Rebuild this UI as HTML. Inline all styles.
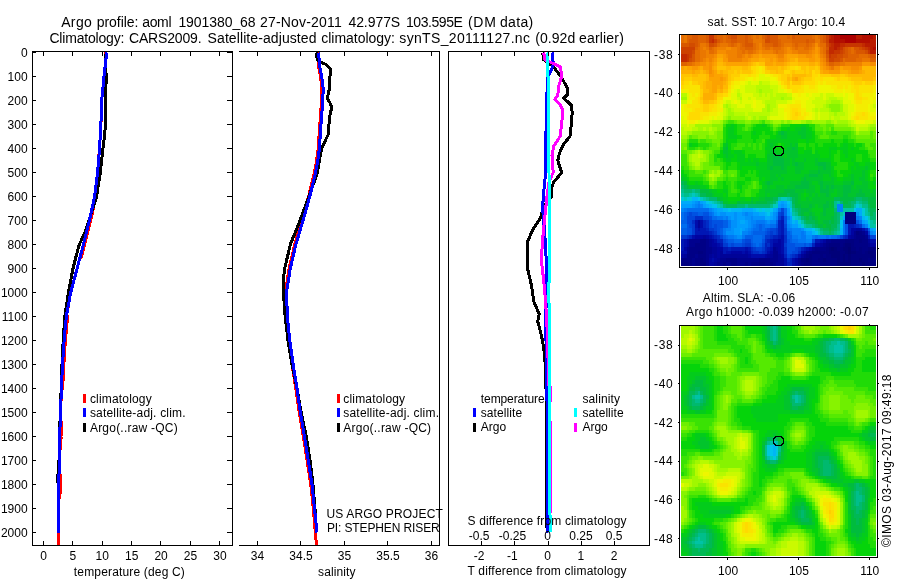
<!DOCTYPE html><html><head><meta charset="utf-8"><title>Argo profile</title>
<style>html,body{margin:0;padding:0;background:#fff}svg{display:block}text{font-family:"Liberation Sans", sans-serif;fill:#000}</style></head><body>
<svg width="900" height="580" viewBox="0 0 900 580">
<rect width="900" height="580" fill="#fff"/>
<g shape-rendering="crispEdges">
<path fill="rgb(0,0,115)" d="M831 247h3v4h-3zM848 247h3v4h-3zM848 251h3v3h-3z"/><path fill="rgb(0,0,121)" d="M845 243h6v4h-6zM829 247h2v4h-2zM834 247h3v4h-3zM843 247h5v4h-5zM829 251h11v3h-11zM845 251h3v3h-3zM851 251h5v3h-5zM868 251h5v3h-5zM831 254h9v4h-9zM843 254h2v4h-2zM848 254h3v4h-3zM870 254h3v4h-3zM806 258h3v4h-3zM823 258h3v4h-3zM837 258h3v4h-3zM843 258h2v4h-2zM848 258h3v4h-3zM859 258h3v4h-3zM837 262h14v4h-14zM862 262h3v4h-3z"/><path fill="rgb(0,0,128)" d="M845 212h11v4h-11zM845 216h11v4h-11zM845 220h11v4h-11zM856 231h3v4h-3zM845 239h9v4h-9zM859 239h3v4h-3zM829 243h11v4h-11zM843 243h2v4h-2zM851 243h3v4h-3zM826 247h3v4h-3zM837 247h6v4h-6zM851 247h5v4h-5zM859 247h3v4h-3zM868 247h8v4h-8zM698 251h5v3h-5zM812 251h17v3h-17zM840 251h5v3h-5zM856 251h6v3h-6zM865 251h3v3h-3zM873 251h3v3h-3zM809 254h3v4h-3zM820 254h3v4h-3zM826 254h5v4h-5zM840 254h3v4h-3zM845 254h3v4h-3zM851 254h19v4h-19zM873 254h3v4h-3zM700 258h3v4h-3zM801 258h5v4h-5zM809 258h3v4h-3zM818 258h5v4h-5zM826 258h11v4h-11zM840 258h3v4h-3zM845 258h3v4h-3zM851 258h8v4h-8zM862 258h6v4h-6zM870 258h3v4h-3zM684 262h5v4h-5zM700 262h6v4h-6zM759 262h6v4h-6zM804 262h8v4h-8zM820 262h17v4h-17zM851 262h11v4h-11zM865 262h11v4h-11z"/><path fill="rgb(0,0,134)" d="M859 231h3v4h-3zM856 235h9v4h-9zM700 239h6v4h-6zM831 239h14v4h-14zM854 239h5v4h-5zM862 239h6v4h-6zM695 243h11v4h-11zM826 243h3v4h-3zM840 243h3v4h-3zM854 243h14v4h-14zM689 247h17v4h-17zM815 247h11v4h-11zM856 247h3v4h-3zM862 247h6v4h-6zM689 251h9v3h-9zM703 251h3v3h-3zM809 251h3v3h-3zM862 251h3v3h-3zM687 254h8v4h-8zM698 254h8v4h-8zM806 254h3v4h-3zM812 254h8v4h-8zM823 254h3v4h-3zM681 258h11v4h-11zM695 258h5v4h-5zM703 258h3v4h-3zM726 258h11v4h-11zM759 258h11v4h-11zM812 258h6v4h-6zM868 258h2v4h-2zM873 258h3v4h-3zM681 262h3v4h-3zM689 262h3v4h-3zM695 262h5v4h-5zM723 262h3v4h-3zM731 262h6v4h-6zM745 262h3v4h-3zM751 262h8v4h-8zM765 262h8v4h-8zM801 262h3v4h-3zM812 262h8v4h-8z"/><path fill="rgb(0,1,142)" d="M854 231h2v4h-2zM862 231h3v4h-3zM854 235h2v4h-2zM865 235h3v4h-3zM689 239h11v4h-11zM706 239h3v4h-3zM826 239h5v4h-5zM689 243h6v4h-6zM706 243h3v4h-3zM823 243h3v4h-3zM868 243h2v4h-2zM687 247h2v4h-2zM706 247h6v4h-6zM773 247h3v4h-3zM812 247h3v4h-3zM687 251h2v3h-2zM706 251h6v3h-6zM773 251h5v3h-5zM806 251h3v3h-3zM695 254h3v4h-3zM706 254h3v4h-3zM773 254h5v4h-5zM804 254h2v4h-2zM692 258h3v4h-3zM706 258h3v4h-3zM720 258h6v4h-6zM737 258h22v4h-22zM770 258h8v4h-8zM798 258h3v4h-3zM692 262h3v4h-3zM706 262h3v4h-3zM717 262h6v4h-6zM726 262h5v4h-5zM737 262h8v4h-8zM748 262h3v4h-3zM773 262h3v4h-3zM798 262h3v4h-3z"/><path fill="rgb(0,3,152)" d="M698 220h2v4h-2zM698 224h2v4h-2zM856 228h6v3h-6zM703 235h3v4h-3zM851 235h3v4h-3zM709 239h3v4h-3zM868 239h2v4h-2zM709 243h3v4h-3zM820 243h3v4h-3zM712 247h5v4h-5zM776 247h2v4h-2zM712 251h5v3h-5zM720 251h3v3h-3zM684 254h3v4h-3zM709 254h3v4h-3zM714 254h3v4h-3zM720 254h28v4h-28zM767 254h6v4h-6zM778 254h3v4h-3zM801 254h3v4h-3zM717 258h3v4h-3zM778 258h6v4h-6zM714 262h3v4h-3zM776 262h8v4h-8z"/><path fill="rgb(0,4,161)" d="M851 228h5v3h-5zM851 231h3v4h-3zM865 231h3v4h-3zM695 235h8v4h-8zM706 235h3v4h-3zM848 235h3v4h-3zM687 239h2v4h-2zM712 239h2v4h-2zM778 239h3v4h-3zM823 239h3v4h-3zM687 243h2v4h-2zM712 243h5v4h-5zM773 243h8v4h-8zM815 243h5v4h-5zM870 243h6v4h-6zM684 247h3v4h-3zM717 247h6v4h-6zM778 247h3v4h-3zM809 247h3v4h-3zM717 251h3v3h-3zM731 251h11v3h-11zM745 251h3v3h-3zM770 251h3v3h-3zM778 251h3v3h-3zM804 251h2v3h-2zM681 254h3v4h-3zM712 254h2v4h-2zM717 254h3v4h-3zM748 254h3v4h-3zM765 254h2v4h-2zM781 254h3v4h-3zM709 258h3v4h-3zM714 258h3v4h-3zM795 258h3v4h-3zM709 262h5v4h-5zM795 262h3v4h-3z"/><path fill="rgb(0,12,171)" d="M695 220h3v4h-3zM700 220h3v4h-3zM695 224h3v4h-3zM700 224h3v4h-3zM698 228h2v3h-2zM862 228h3v3h-3zM692 235h3v4h-3zM709 235h3v4h-3zM781 235h3v4h-3zM684 239h3v4h-3zM714 239h3v4h-3zM773 239h5v4h-5zM781 239h3v4h-3zM820 239h3v4h-3zM870 239h6v4h-6zM684 243h3v4h-3zM717 243h3v4h-3zM781 243h3v4h-3zM745 247h3v4h-3zM770 247h3v4h-3zM781 247h3v4h-3zM806 247h3v4h-3zM681 251h6v3h-6zM726 251h5v3h-5zM742 251h3v3h-3zM748 251h3v3h-3zM767 251h3v3h-3zM781 251h3v3h-3zM801 251h3v3h-3zM751 254h14v4h-14zM798 254h3v4h-3zM712 258h2v4h-2zM784 258h3v4h-3zM792 258h3v4h-3zM784 262h3v4h-3zM792 262h3v4h-3z"/><path fill="rgb(0,22,180)" d="M781 220h3v4h-3zM781 224h3v4h-3zM848 224h6v4h-6zM695 228h3v3h-3zM700 228h6v3h-6zM781 228h3v3h-3zM848 228h3v3h-3zM695 231h14v4h-14zM781 231h3v4h-3zM848 231h3v4h-3zM712 235h2v4h-2zM778 235h3v4h-3zM868 235h2v4h-2zM681 239h3v4h-3zM770 239h3v4h-3zM815 239h5v4h-5zM681 243h3v4h-3zM720 243h3v4h-3zM770 243h3v4h-3zM681 247h3v4h-3zM723 247h5v4h-5zM731 247h14v4h-14zM748 247h3v4h-3zM767 247h3v4h-3zM804 247h2v4h-2zM723 251h3v3h-3z"/><path fill="rgb(0,33,189)" d="M781 216h3v4h-3zM703 220h3v4h-3zM778 220h3v4h-3zM703 224h3v4h-3zM778 224h3v4h-3zM854 224h2v4h-2zM706 228h3v3h-3zM778 228h3v3h-3zM865 228h3v3h-3zM709 231h3v4h-3zM778 231h3v4h-3zM689 235h3v4h-3zM714 235h3v4h-3zM773 235h5v4h-5zM845 235h3v4h-3zM717 239h6v4h-6zM767 239h3v4h-3zM765 243h2v4h-2zM812 243h3v4h-3zM728 247h3v4h-3zM765 247h2v4h-2zM801 247h3v4h-3zM751 251h2v3h-2zM765 251h2v3h-2zM784 254h3v4h-3zM795 254h3v4h-3zM790 258h2v4h-2zM787 262h5v4h-5z"/><path fill="rgb(0,45,199)" d="M695 216h8v4h-8zM692 220h3v4h-3zM706 220h3v4h-3zM706 224h3v4h-3zM856 224h3v4h-3zM712 231h2v4h-2zM687 235h2v4h-2zM717 235h3v4h-3zM770 235h3v4h-3zM784 235h3v4h-3zM843 235h2v4h-2zM765 239h2v4h-2zM784 239h3v4h-3zM767 243h3v4h-3zM751 247h2v4h-2zM784 247h3v4h-3zM753 251h6v3h-6zM762 251h3v3h-3zM784 251h3v3h-3zM798 251h3v3h-3zM792 254h3v4h-3zM787 258h3v4h-3z"/><path fill="rgb(0,58,208)" d="M781 212h3v4h-3zM778 216h3v4h-3zM692 224h3v4h-3zM859 224h3v4h-3zM692 228h3v3h-3zM709 228h5v3h-5zM776 228h2v3h-2zM784 228h3v3h-3zM692 231h3v4h-3zM714 231h3v4h-3zM770 231h3v4h-3zM776 231h2v4h-2zM784 231h3v4h-3zM868 231h2v4h-2zM681 235h6v4h-6zM765 235h5v4h-5zM723 243h5v4h-5zM745 243h6v4h-6zM784 243h3v4h-3zM753 247h3v4h-3zM762 247h3v4h-3zM798 247h3v4h-3zM759 251h3v3h-3zM790 254h2v4h-2z"/><path fill="rgb(0,70,218)" d="M781 208h3v4h-3zM689 212h3v4h-3zM778 212h3v4h-3zM687 216h8v4h-8zM703 216h6v4h-6zM687 220h5v4h-5zM709 220h3v4h-3zM689 224h3v4h-3zM709 224h3v4h-3zM714 224h3v4h-3zM784 224h3v4h-3zM714 228h3v3h-3zM770 228h6v3h-6zM767 231h3v4h-3zM773 231h3v4h-3zM720 235h3v4h-3zM840 235h3v4h-3zM870 235h6v4h-6zM723 239h3v4h-3zM745 239h6v4h-6zM812 239h3v4h-3zM731 243h3v4h-3zM742 243h3v4h-3zM762 243h3v4h-3zM756 247h6v4h-6zM795 247h3v4h-3zM792 251h6v3h-6zM787 254h3v4h-3z"/><path fill="rgb(0,82,226)" d="M687 212h2v4h-2zM692 212h6v4h-6zM703 212h6v4h-6zM709 216h3v4h-3zM784 216h3v4h-3zM712 220h11v4h-11zM784 220h3v4h-3zM856 220h3v4h-3zM687 224h2v4h-2zM712 224h2v4h-2zM717 224h6v4h-6zM776 224h2v4h-2zM845 224h3v4h-3zM687 228h5v3h-5zM717 228h3v3h-3zM767 228h3v3h-3zM845 228h3v3h-3zM687 231h5v4h-5zM717 231h3v4h-3zM765 231h2v4h-2zM845 231h3v4h-3zM726 239h2v4h-2zM742 239h3v4h-3zM762 239h3v4h-3zM787 239h3v4h-3zM728 243h3v4h-3zM734 243h8v4h-8zM751 243h2v4h-2zM787 243h8v4h-8zM804 243h2v4h-2zM809 243h3v4h-3zM787 247h8v4h-8zM787 251h5v3h-5z"/><path fill="rgb(0,95,232)" d="M684 212h3v4h-3zM698 212h5v4h-5zM684 216h3v4h-3zM681 220h6v4h-6zM723 220h5v4h-5zM776 220h2v4h-2zM723 224h5v4h-5zM759 224h3v4h-3zM681 228h6v3h-6zM720 228h3v3h-3zM759 228h3v3h-3zM765 228h2v3h-2zM868 228h2v3h-2zM681 231h6v4h-6zM720 231h3v4h-3zM753 231h12v4h-12zM787 231h3v4h-3zM723 235h3v4h-3zM745 235h8v4h-8zM762 235h3v4h-3zM787 235h5v4h-5zM837 235h3v4h-3zM728 239h6v4h-6zM751 239h2v4h-2zM790 239h2v4h-2zM753 243h3v4h-3zM759 243h3v4h-3zM795 243h9v4h-9zM806 243h3v4h-3z"/><path fill="rgb(0,108,239)" d="M687 208h22v4h-22zM778 208h3v4h-3zM784 208h3v4h-3zM681 212h3v4h-3zM709 212h3v4h-3zM784 212h3v4h-3zM681 216h3v4h-3zM712 216h5v4h-5zM859 220h3v4h-3zM681 224h6v4h-6zM756 224h3v4h-3zM762 224h3v4h-3zM770 224h6v4h-6zM862 224h3v4h-3zM753 228h6v3h-6zM762 228h3v3h-3zM751 231h2v4h-2zM790 231h2v4h-2zM726 235h2v4h-2zM753 235h9v4h-9zM815 235h3v4h-3zM826 235h3v4h-3zM831 235h6v4h-6zM734 239h8v4h-8zM753 239h9v4h-9zM792 239h6v4h-6zM756 243h3v4h-3z"/><path fill="rgb(0,120,245)" d="M698 204h2v4h-2zM684 208h3v4h-3zM712 212h2v4h-2zM717 216h6v4h-6zM726 216h2v4h-2zM776 216h2v4h-2zM856 216h3v4h-3zM728 220h3v4h-3zM756 220h9v4h-9zM843 220h2v4h-2zM728 224h3v4h-3zM753 224h3v4h-3zM765 224h5v4h-5zM843 224h2v4h-2zM723 228h3v3h-3zM751 228h2v3h-2zM787 228h5v3h-5zM843 228h2v3h-2zM723 231h3v4h-3zM748 231h3v4h-3zM801 231h3v4h-3zM843 231h2v4h-2zM728 235h6v4h-6zM742 235h3v4h-3zM792 235h6v4h-6zM801 235h5v4h-5zM812 235h3v4h-3zM818 235h8v4h-8zM829 235h2v4h-2zM798 239h8v4h-8z"/><path fill="rgb(0,132,248)" d="M698 201h2v3h-2zM695 204h3v4h-3zM700 204h3v4h-3zM837 204h6v4h-6zM681 208h3v4h-3zM709 208h3v4h-3zM837 208h6v4h-6zM745 212h3v4h-3zM776 212h2v4h-2zM723 216h3v4h-3zM751 216h2v4h-2zM787 216h3v4h-3zM859 216h3v4h-3zM751 220h5v4h-5zM765 220h2v4h-2zM770 220h6v4h-6zM751 224h2v4h-2zM787 224h3v4h-3zM865 224h3v4h-3zM726 228h5v3h-5zM748 228h3v3h-3zM792 228h9v3h-9zM742 231h6v4h-6zM792 231h9v4h-9zM804 231h2v4h-2zM870 231h3v4h-3zM734 235h3v4h-3zM798 235h3v4h-3zM806 239h6v4h-6z"/><path fill="rgb(0,145,251)" d="M695 201h3v3h-3zM692 204h3v4h-3zM781 204h3v4h-3zM712 208h2v4h-2zM714 212h3v4h-3zM720 212h6v4h-6zM734 212h3v4h-3zM742 212h3v4h-3zM748 212h5v4h-5zM773 212h3v4h-3zM856 212h3v4h-3zM728 216h3v4h-3zM734 216h3v4h-3zM745 216h6v4h-6zM753 216h12v4h-12zM773 216h3v4h-3zM731 220h6v4h-6zM748 220h3v4h-3zM767 220h3v4h-3zM787 220h3v4h-3zM731 224h6v4h-6zM748 224h3v4h-3zM790 224h2v4h-2zM731 228h3v3h-3zM745 228h3v3h-3zM801 228h3v3h-3zM726 231h8v4h-8zM873 231h3v4h-3zM737 235h5v4h-5zM806 235h6v4h-6z"/><path fill="rgb(0,158,254)" d="M692 201h3v3h-3zM700 201h3v3h-3zM781 201h3v3h-3zM681 204h11v4h-11zM703 204h3v4h-3zM778 204h3v4h-3zM784 204h3v4h-3zM714 208h3v4h-3zM776 208h2v4h-2zM787 208h3v4h-3zM717 212h3v4h-3zM726 212h8v4h-8zM737 212h5v4h-5zM753 212h6v4h-6zM787 212h3v4h-3zM731 216h3v4h-3zM737 216h8v4h-8zM770 216h3v4h-3zM790 216h2v4h-2zM737 220h3v4h-3zM745 220h3v4h-3zM790 220h2v4h-2zM862 220h3v4h-3zM737 224h11v4h-11zM792 224h6v4h-6zM734 228h6v3h-6zM742 228h3v3h-3zM870 228h3v3h-3zM734 231h6v4h-6zM806 231h6v4h-6z"/><path fill="rgb(0,170,250)" d="M681 201h11v3h-11zM703 201h3v3h-3zM778 201h3v3h-3zM784 201h3v3h-3zM706 204h3v4h-3zM717 208h6v4h-6zM742 208h11v4h-11zM773 208h3v4h-3zM856 208h6v4h-6zM759 212h6v4h-6zM770 212h3v4h-3zM859 212h3v4h-3zM765 216h5v4h-5zM843 216h2v4h-2zM740 220h5v4h-5zM795 220h3v4h-3zM865 220h3v4h-3zM740 228h2v3h-2zM804 228h2v3h-2zM873 228h3v3h-3zM740 231h2v4h-2z"/><path fill="rgb(0,182,244)" d="M692 197h6v4h-6zM709 204h3v4h-3zM787 204h3v4h-3zM723 208h5v4h-5zM731 208h11v4h-11zM753 208h3v4h-3zM765 212h2v4h-2zM790 212h2v4h-2zM862 216h3v4h-3zM792 220h3v4h-3zM798 224h3v4h-3zM868 224h2v4h-2zM806 228h6v3h-6zM840 228h3v3h-3zM812 231h3v4h-3zM840 231h3v4h-3z"/><path fill="rgb(0,195,238)" d="M698 197h2v4h-2zM706 201h3v3h-3zM787 201h3v3h-3zM712 204h5v4h-5zM728 208h3v4h-3zM756 208h3v4h-3zM762 208h3v4h-3zM770 208h3v4h-3zM790 208h2v4h-2zM854 208h2v4h-2zM767 212h3v4h-3zM865 216h3v4h-3zM840 220h3v4h-3zM840 224h3v4h-3zM812 228h3v3h-3zM815 231h3v4h-3z"/><path fill="rgb(0,200,218)" d="M681 197h3v4h-3zM687 197h5v4h-5zM709 201h3v3h-3zM856 204h3v4h-3zM759 208h3v4h-3zM765 208h5v4h-5zM862 208h3v4h-3zM862 212h3v4h-3zM792 216h3v4h-3zM798 220h3v4h-3zM868 220h2v4h-2zM801 224h3v4h-3z"/><path fill="rgb(0,200,190)" d="M692 193h3v4h-3zM684 197h3v4h-3zM700 197h3v4h-3zM781 197h6v4h-6zM712 201h2v3h-2zM790 201h2v3h-2zM717 204h3v4h-3zM773 204h5v4h-5zM790 204h2v4h-2zM859 204h3v4h-3zM843 212h2v4h-2zM795 216h3v4h-3zM840 216h3v4h-3zM868 216h2v4h-2zM815 228h3v3h-3zM818 231h2v4h-2z"/><path fill="rgb(0,195,165)" d="M681 193h3v4h-3zM689 193h3v4h-3zM695 193h3v4h-3zM703 197h3v4h-3zM778 197h3v4h-3zM787 197h3v4h-3zM714 201h3v3h-3zM776 201h2v3h-2zM837 201h3v3h-3zM856 201h3v3h-3zM720 204h3v4h-3zM854 204h2v4h-2zM843 208h11v4h-11zM865 208h3v4h-3zM792 212h3v4h-3zM840 212h3v4h-3zM865 212h3v4h-3zM798 216h3v4h-3zM801 220h3v4h-3zM870 220h3v4h-3zM804 224h2v4h-2zM870 224h6v4h-6zM818 228h2v3h-2zM837 231h3v4h-3z"/><path fill="rgb(0,190,139)" d="M681 189h3v4h-3zM692 189h3v4h-3zM684 193h5v4h-5zM698 193h2v4h-2zM706 197h3v4h-3zM790 197h2v4h-2zM717 201h3v3h-3zM834 201h3v3h-3zM859 201h3v3h-3zM745 204h3v4h-3zM770 204h3v4h-3zM834 204h3v4h-3zM862 204h6v4h-6zM792 208h3v4h-3zM795 212h3v4h-3zM868 212h2v4h-2zM873 220h3v4h-3zM806 224h6v4h-6zM837 224h3v4h-3zM837 228h3v3h-3zM820 231h3v4h-3zM834 231h3v4h-3z"/><path fill="rgb(0,185,110)" d="M681 185h3v4h-3zM684 189h8v4h-8zM695 189h5v4h-5zM709 197h8v4h-8zM856 197h6v4h-6zM720 201h3v3h-3zM773 201h3v3h-3zM840 201h3v3h-3zM851 201h5v3h-5zM862 201h6v3h-6zM723 204h3v4h-3zM737 204h8v4h-8zM748 204h22v4h-22zM792 204h3v4h-3zM851 204h3v4h-3zM795 208h3v4h-3zM834 208h3v4h-3zM868 208h2v4h-2zM837 212h3v4h-3zM873 212h3v4h-3zM801 216h3v4h-3zM837 216h3v4h-3zM870 216h6v4h-6zM804 220h2v4h-2zM837 220h3v4h-3zM812 224h3v4h-3zM820 228h3v3h-3zM834 228h3v3h-3zM823 231h6v4h-6zM831 231h3v4h-3z"/><path fill="rgb(0,185,84)" d="M681 181h3v4h-3zM684 185h3v4h-3zM700 193h6v4h-6zM787 193h3v4h-3zM773 197h5v4h-5zM792 197h3v4h-3zM834 197h6v4h-6zM854 197h2v4h-2zM862 197h6v4h-6zM767 201h6v3h-6zM792 201h3v3h-3zM848 201h3v3h-3zM726 204h11v4h-11zM843 204h8v4h-8zM868 204h2v4h-2zM798 208h3v4h-3zM870 208h6v4h-6zM798 212h3v4h-3zM834 212h3v4h-3zM870 212h3v4h-3zM804 216h2v4h-2zM809 216h3v4h-3zM834 216h3v4h-3zM806 220h9v4h-9zM829 220h2v4h-2zM834 220h3v4h-3zM815 224h3v4h-3zM831 224h6v4h-6zM823 228h6v3h-6zM831 228h3v3h-3zM829 231h2v4h-2z"/><path fill="rgb(0,188,61)" d="M781 131h3v4h-3zM726 147h2v3h-2zM792 147h3v3h-3zM773 154h3v4h-3zM778 154h3v4h-3zM773 158h11v4h-11zM773 162h11v4h-11zM795 162h3v4h-3zM818 162h8v4h-8zM770 166h3v4h-3zM781 166h3v4h-3zM823 166h3v4h-3zM818 170h2v4h-2zM809 174h9v3h-9zM804 177h2v4h-2zM684 181h3v4h-3zM767 181h3v4h-3zM801 181h8v4h-8zM820 181h3v4h-3zM851 181h3v4h-3zM687 185h2v4h-2zM795 185h14v4h-14zM820 185h3v4h-3zM826 185h3v4h-3zM831 185h3v4h-3zM843 185h8v4h-8zM700 189h9v4h-9zM784 189h11v4h-11zM820 189h9v4h-9zM843 189h8v4h-8zM859 189h3v4h-3zM706 193h6v4h-6zM778 193h9v4h-9zM790 193h8v4h-8zM826 193h3v4h-3zM843 193h5v4h-5zM856 193h9v4h-9zM717 197h3v4h-3zM765 197h8v4h-8zM795 197h3v4h-3zM840 197h14v4h-14zM868 197h8v4h-8zM737 201h3v3h-3zM751 201h2v3h-2zM756 201h11v3h-11zM795 201h3v3h-3zM826 201h3v3h-3zM831 201h3v3h-3zM843 201h5v3h-5zM868 201h8v3h-8zM795 204h6v4h-6zM809 204h3v4h-3zM823 204h6v4h-6zM831 204h3v4h-3zM870 204h6v4h-6zM801 208h8v4h-8zM823 208h3v4h-3zM801 212h3v4h-3zM809 212h3v4h-3zM823 212h3v4h-3zM806 216h3v4h-3zM812 216h3v4h-3zM831 216h3v4h-3zM815 220h3v4h-3zM823 220h6v4h-6zM831 220h3v4h-3zM818 224h5v4h-5zM826 224h5v4h-5zM829 228h2v3h-2z"/><path fill="rgb(2,196,44)" d="M801 127h5v4h-5zM778 131h3v4h-3zM784 131h3v4h-3zM798 131h8v4h-8zM781 135h6v4h-6zM801 135h5v4h-5zM726 143h2v4h-2zM770 143h3v4h-3zM790 143h2v4h-2zM795 143h3v4h-3zM723 147h3v3h-3zM787 147h5v3h-5zM795 147h3v3h-3zM723 150h5v4h-5zM770 150h6v4h-6zM784 150h14v4h-14zM726 154h2v4h-2zM767 154h6v4h-6zM776 154h2v4h-2zM781 154h3v4h-3zM787 154h11v4h-11zM767 158h6v4h-6zM784 158h6v4h-6zM792 158h3v4h-3zM804 158h2v4h-2zM815 158h3v4h-3zM756 162h3v4h-3zM767 162h6v4h-6zM784 162h6v4h-6zM792 162h3v4h-3zM798 162h6v4h-6zM815 162h3v4h-3zM826 162h5v4h-5zM767 166h3v4h-3zM773 166h8v4h-8zM784 166h3v4h-3zM795 166h9v4h-9zM818 166h5v4h-5zM826 166h5v4h-5zM865 166h3v4h-3zM770 170h17v4h-17zM795 170h6v4h-6zM809 170h9v4h-9zM820 170h11v4h-11zM862 170h3v4h-3zM770 174h6v3h-6zM778 174h3v3h-3zM804 174h5v3h-5zM818 174h5v3h-5zM829 174h2v3h-2zM851 174h3v3h-3zM862 174h3v3h-3zM681 177h3v4h-3zM770 177h8v4h-8zM781 177h3v4h-3zM801 177h3v4h-3zM806 177h17v4h-17zM831 177h3v4h-3zM851 177h3v4h-3zM859 177h6v4h-6zM765 181h2v4h-2zM770 181h3v4h-3zM790 181h11v4h-11zM809 181h3v4h-3zM818 181h2v4h-2zM823 181h11v4h-11zM843 181h8v4h-8zM862 181h6v4h-6zM689 185h11v4h-11zM767 185h3v4h-3zM776 185h8v4h-8zM787 185h8v4h-8zM809 185h6v4h-6zM823 185h3v4h-3zM829 185h2v4h-2zM834 185h9v4h-9zM851 185h3v4h-3zM856 185h12v4h-12zM709 189h3v4h-3zM765 189h19v4h-19zM795 189h9v4h-9zM806 189h9v4h-9zM829 189h5v4h-5zM837 189h6v4h-6zM851 189h8v4h-8zM862 189h8v4h-8zM873 189h3v4h-3zM712 193h2v4h-2zM765 193h2v4h-2zM770 193h8v4h-8zM798 193h3v4h-3zM809 193h3v4h-3zM815 193h3v4h-3zM820 193h6v4h-6zM829 193h2v4h-2zM837 193h6v4h-6zM848 193h8v4h-8zM865 193h11v4h-11zM720 197h3v4h-3zM751 197h2v4h-2zM759 197h6v4h-6zM798 197h3v4h-3zM806 197h3v4h-3zM812 197h22v4h-22zM723 201h5v3h-5zM740 201h11v3h-11zM753 201h3v3h-3zM798 201h28v3h-28zM829 201h2v3h-2zM801 204h8v4h-8zM812 204h3v4h-3zM818 204h5v4h-5zM829 204h2v4h-2zM809 208h3v4h-3zM826 208h8v4h-8zM804 212h5v4h-5zM812 212h3v4h-3zM820 212h3v4h-3zM826 212h8v4h-8zM815 216h3v4h-3zM820 216h11v4h-11zM818 220h5v4h-5zM823 224h3v4h-3z"/><path fill="rgb(3,204,27)" d="M731 124h3v3h-3zM762 124h3v3h-3zM801 124h5v3h-5zM728 127h6v4h-6zM787 127h3v4h-3zM795 127h6v4h-6zM806 127h3v4h-3zM728 131h6v4h-6zM753 131h3v4h-3zM787 131h11v4h-11zM806 131h6v4h-6zM728 135h9v4h-9zM776 135h5v4h-5zM787 135h14v4h-14zM806 135h6v4h-6zM726 139h2v4h-2zM767 139h31v4h-31zM806 139h3v4h-3zM689 143h3v4h-3zM723 143h3v4h-3zM767 143h3v4h-3zM773 143h3v4h-3zM784 143h6v4h-6zM792 143h3v4h-3zM843 143h5v4h-5zM765 147h11v3h-11zM784 147h3v3h-3zM829 147h8v3h-8zM840 147h8v3h-8zM851 147h3v3h-3zM728 150h3v4h-3zM734 150h8v4h-8zM767 150h3v4h-3zM776 150h8v4h-8zM804 150h8v4h-8zM815 150h3v4h-3zM829 150h2v4h-2zM843 150h5v4h-5zM723 154h3v4h-3zM728 154h6v4h-6zM737 154h8v4h-8zM784 154h3v4h-3zM798 154h22v4h-22zM829 154h2v4h-2zM845 154h3v4h-3zM726 158h5v4h-5zM737 158h8v4h-8zM748 158h3v4h-3zM753 158h6v4h-6zM790 158h2v4h-2zM795 158h9v4h-9zM806 158h9v4h-9zM818 158h13v4h-13zM851 158h3v4h-3zM740 162h16v4h-16zM759 162h8v4h-8zM790 162h2v4h-2zM804 162h11v4h-11zM854 162h5v4h-5zM865 162h5v4h-5zM740 166h2v4h-2zM756 166h11v4h-11zM787 166h8v4h-8zM804 166h14v4h-14zM831 166h3v4h-3zM851 166h3v4h-3zM856 166h9v4h-9zM868 166h2v4h-2zM759 170h11v4h-11zM787 170h8v4h-8zM801 170h8v4h-8zM831 170h3v4h-3zM851 170h11v4h-11zM865 170h3v4h-3zM681 174h3v3h-3zM759 174h11v3h-11zM776 174h2v3h-2zM781 174h23v3h-23zM823 174h6v3h-6zM831 174h3v3h-3zM848 174h3v3h-3zM854 174h8v3h-8zM865 174h3v3h-3zM684 177h3v4h-3zM759 177h3v4h-3zM765 177h5v4h-5zM778 177h3v4h-3zM784 177h17v4h-17zM823 177h8v4h-8zM834 177h3v4h-3zM843 177h8v4h-8zM854 177h5v4h-5zM865 177h3v4h-3zM687 181h2v4h-2zM695 181h3v4h-3zM762 181h3v4h-3zM773 181h17v4h-17zM812 181h6v4h-6zM834 181h9v4h-9zM854 181h8v4h-8zM868 181h2v4h-2zM873 181h3v4h-3zM700 185h6v4h-6zM740 185h2v4h-2zM762 185h5v4h-5zM770 185h6v4h-6zM784 185h3v4h-3zM815 185h5v4h-5zM854 185h2v4h-2zM868 185h2v4h-2zM712 189h5v4h-5zM723 189h5v4h-5zM759 189h6v4h-6zM804 189h2v4h-2zM815 189h5v4h-5zM834 189h3v4h-3zM870 189h3v4h-3zM714 193h9v4h-9zM726 193h2v4h-2zM759 193h6v4h-6zM767 193h3v4h-3zM801 193h3v4h-3zM806 193h3v4h-3zM812 193h3v4h-3zM818 193h2v4h-2zM831 193h6v4h-6zM723 197h5v4h-5zM740 197h5v4h-5zM753 197h6v4h-6zM801 197h5v4h-5zM809 197h3v4h-3zM728 201h9v3h-9zM815 204h3v4h-3zM812 208h11v4h-11zM815 212h5v4h-5zM818 216h2v4h-2z"/><path fill="rgb(5,212,10)" d="M726 124h5v3h-5zM734 124h3v3h-3zM756 124h6v3h-6zM765 124h2v3h-2zM790 124h11v3h-11zM806 124h3v3h-3zM726 127h2v4h-2zM734 127h3v4h-3zM753 127h17v4h-17zM781 127h6v4h-6zM790 127h5v4h-5zM809 127h3v4h-3zM726 131h2v4h-2zM734 131h3v4h-3zM751 131h2v4h-2zM756 131h6v4h-6zM765 131h8v4h-8zM776 131h2v4h-2zM812 131h3v4h-3zM726 135h2v4h-2zM737 135h5v4h-5zM751 135h8v4h-8zM770 135h6v4h-6zM812 135h3v4h-3zM728 139h9v4h-9zM753 139h3v4h-3zM765 139h2v4h-2zM798 139h8v4h-8zM809 139h6v4h-6zM831 139h3v4h-3zM843 139h5v4h-5zM692 143h6v4h-6zM728 143h3v4h-3zM765 143h2v4h-2zM776 143h2v4h-2zM781 143h3v4h-3zM806 143h3v4h-3zM815 143h3v4h-3zM823 143h14v4h-14zM840 143h3v4h-3zM848 143h6v4h-6zM856 143h6v4h-6zM728 147h3v3h-3zM776 147h8v3h-8zM798 147h6v3h-6zM806 147h6v3h-6zM815 147h14v3h-14zM837 147h3v3h-3zM848 147h3v3h-3zM854 147h5v3h-5zM720 150h3v4h-3zM731 150h3v4h-3zM742 150h3v4h-3zM765 150h2v4h-2zM798 150h6v4h-6zM818 150h11v4h-11zM831 150h6v4h-6zM840 150h3v4h-3zM848 150h20v4h-20zM717 154h6v4h-6zM734 154h3v4h-3zM748 154h8v4h-8zM765 154h2v4h-2zM820 154h9v4h-9zM831 154h3v4h-3zM840 154h5v4h-5zM848 154h8v4h-8zM862 154h6v4h-6zM723 158h3v4h-3zM731 158h6v4h-6zM745 158h3v4h-3zM751 158h2v4h-2zM759 158h8v4h-8zM831 158h3v4h-3zM840 158h11v4h-11zM854 158h2v4h-2zM862 158h8v4h-8zM726 162h5v4h-5zM737 162h3v4h-3zM831 162h6v4h-6zM848 162h6v4h-6zM859 162h6v4h-6zM870 162h6v4h-6zM726 166h2v4h-2zM737 166h3v4h-3zM742 166h14v4h-14zM848 166h3v4h-3zM854 166h2v4h-2zM870 166h6v4h-6zM681 170h3v4h-3zM740 170h8v4h-8zM751 170h2v4h-2zM756 170h3v4h-3zM834 170h3v4h-3zM840 170h11v4h-11zM868 170h2v4h-2zM684 174h3v3h-3zM740 174h5v3h-5zM756 174h3v3h-3zM834 174h3v3h-3zM843 174h5v3h-5zM868 174h2v3h-2zM687 177h2v4h-2zM745 177h6v4h-6zM762 177h3v4h-3zM837 177h6v4h-6zM868 177h2v4h-2zM873 177h3v4h-3zM689 181h6v4h-6zM698 181h5v4h-5zM723 181h3v4h-3zM737 181h8v4h-8zM759 181h3v4h-3zM870 181h3v4h-3zM706 185h3v4h-3zM723 185h5v4h-5zM737 185h3v4h-3zM870 185h6v4h-6zM717 189h6v4h-6zM740 189h2v4h-2zM723 193h3v4h-3zM737 193h3v4h-3zM756 193h3v4h-3zM804 193h2v4h-2zM728 197h12v4h-12zM745 197h6v4h-6z"/><path fill="rgb(32,219,7)" d="M737 124h8v3h-8zM753 124h3v3h-3zM767 124h3v3h-3zM781 124h9v3h-9zM809 124h6v3h-6zM723 127h3v4h-3zM737 127h5v4h-5zM751 127h2v4h-2zM770 127h3v4h-3zM778 127h3v4h-3zM812 127h3v4h-3zM723 131h3v4h-3zM737 131h14v4h-14zM762 131h3v4h-3zM773 131h3v4h-3zM831 131h6v4h-6zM723 135h3v4h-3zM742 135h9v4h-9zM759 135h11v4h-11zM815 135h3v4h-3zM843 135h5v4h-5zM689 139h9v4h-9zM723 139h3v4h-3zM737 139h16v4h-16zM756 139h6v4h-6zM815 139h16v4h-16zM834 139h9v4h-9zM848 139h6v4h-6zM698 143h11v4h-11zM731 143h6v4h-6zM745 143h3v4h-3zM751 143h2v4h-2zM756 143h3v4h-3zM762 143h3v4h-3zM778 143h3v4h-3zM798 143h8v4h-8zM809 143h6v4h-6zM818 143h5v4h-5zM837 143h3v4h-3zM854 143h2v4h-2zM862 143h3v4h-3zM689 147h6v3h-6zM703 147h3v3h-3zM720 147h3v3h-3zM731 147h3v3h-3zM742 147h11v3h-11zM756 147h3v3h-3zM762 147h3v3h-3zM804 147h2v3h-2zM812 147h3v3h-3zM859 147h6v3h-6zM745 150h20v4h-20zM812 150h3v4h-3zM837 150h3v4h-3zM714 154h3v4h-3zM745 154h3v4h-3zM756 154h9v4h-9zM834 154h6v4h-6zM856 154h6v4h-6zM868 154h2v4h-2zM714 158h3v4h-3zM720 158h3v4h-3zM834 158h6v4h-6zM856 158h6v4h-6zM870 158h6v4h-6zM723 162h3v4h-3zM731 162h6v4h-6zM837 162h11v4h-11zM681 166h3v4h-3zM723 166h3v4h-3zM728 166h9v4h-9zM834 166h14v4h-14zM684 170h5v4h-5zM737 170h3v4h-3zM748 170h3v4h-3zM753 170h3v4h-3zM837 170h3v4h-3zM870 170h6v4h-6zM687 174h2v3h-2zM737 174h3v3h-3zM745 174h11v3h-11zM837 174h6v3h-6zM873 174h3v3h-3zM689 177h14v4h-14zM726 177h2v4h-2zM737 177h8v4h-8zM751 177h8v4h-8zM870 177h3v4h-3zM703 181h6v4h-6zM717 181h6v4h-6zM726 181h5v4h-5zM734 181h3v4h-3zM745 181h6v4h-6zM717 185h6v4h-6zM728 185h3v4h-3zM734 185h3v4h-3zM742 185h6v4h-6zM759 185h3v4h-3zM728 189h3v4h-3zM737 189h3v4h-3zM742 189h3v4h-3zM751 189h8v4h-8zM728 193h9v4h-9zM740 193h5v4h-5zM751 193h5v4h-5z"/><path fill="rgb(58,226,4)" d="M728 120h6v4h-6zM762 120h3v4h-3zM723 124h3v3h-3zM751 124h2v3h-2zM770 124h3v3h-3zM742 127h3v4h-3zM748 127h3v4h-3zM776 127h2v4h-2zM831 127h3v4h-3zM815 131h8v4h-8zM826 131h5v4h-5zM837 131h14v4h-14zM818 135h2v4h-2zM829 135h14v4h-14zM848 135h3v4h-3zM700 139h6v4h-6zM762 139h3v4h-3zM854 139h2v4h-2zM687 143h2v4h-2zM709 143h3v4h-3zM720 143h3v4h-3zM737 143h8v4h-8zM748 143h3v4h-3zM753 143h3v4h-3zM759 143h3v4h-3zM870 143h6v4h-6zM687 147h2v3h-2zM695 147h3v3h-3zM700 147h3v3h-3zM706 147h3v3h-3zM734 147h8v3h-8zM753 147h3v3h-3zM759 147h3v3h-3zM865 147h3v3h-3zM873 147h3v3h-3zM714 150h6v4h-6zM868 150h8v4h-8zM681 154h6v4h-6zM870 154h6v4h-6zM681 158h6v4h-6zM717 158h3v4h-3zM681 162h6v4h-6zM714 162h9v4h-9zM684 166h5v4h-5zM720 166h3v4h-3zM689 170h6v4h-6zM703 170h3v4h-3zM723 170h5v4h-5zM689 174h14v3h-14zM726 174h2v3h-2zM870 174h3v3h-3zM703 177h3v4h-3zM723 177h3v4h-3zM728 177h9v4h-9zM731 181h3v4h-3zM751 181h2v4h-2zM756 181h3v4h-3zM709 185h3v4h-3zM714 185h3v4h-3zM731 185h3v4h-3zM748 185h5v4h-5zM756 185h3v4h-3zM731 189h6v4h-6zM745 189h6v4h-6zM745 193h6v4h-6z"/><path fill="rgb(85,234,1)" d="M726 120h2v4h-2zM734 120h3v4h-3zM759 120h3v4h-3zM745 124h6v3h-6zM778 124h3v3h-3zM815 124h5v3h-5zM826 124h8v3h-8zM745 127h3v4h-3zM773 127h3v4h-3zM815 127h8v4h-8zM826 127h3v4h-3zM823 131h3v4h-3zM851 131h3v4h-3zM870 131h3v4h-3zM689 135h3v4h-3zM820 135h9v4h-9zM851 135h5v4h-5zM870 135h3v4h-3zM687 139h2v4h-2zM698 139h2v4h-2zM706 139h6v4h-6zM720 139h3v4h-3zM856 139h20v4h-20zM712 143h5v4h-5zM865 143h5v4h-5zM698 147h2v3h-2zM709 147h11v3h-11zM868 147h5v3h-5zM681 150h6v4h-6zM712 150h2v4h-2zM709 154h5v4h-5zM709 158h5v4h-5zM687 162h2v4h-2zM709 162h5v4h-5zM695 170h8v4h-8zM706 170h3v4h-3zM728 170h9v4h-9zM703 174h3v3h-3zM723 174h3v3h-3zM728 174h3v3h-3zM734 174h3v3h-3zM706 177h3v4h-3zM717 177h6v4h-6zM714 181h3v4h-3zM753 181h3v4h-3zM712 185h2v4h-2zM753 185h3v4h-3z"/><path fill="rgb(110,239,0)" d="M723 120h3v4h-3zM737 120h8v4h-8zM751 120h8v4h-8zM765 120h5v4h-5zM773 124h5v3h-5zM820 124h6v3h-6zM823 127h3v4h-3zM829 127h2v4h-2zM834 127h17v4h-17zM717 131h6v4h-6zM854 131h2v4h-2zM873 131h3v4h-3zM692 135h6v4h-6zM706 135h3v4h-3zM717 135h6v4h-6zM856 135h14v4h-14zM873 135h3v4h-3zM712 139h8v4h-8zM681 143h6v4h-6zM717 143h3v4h-3zM681 147h3v3h-3zM687 150h5v4h-5zM709 150h3v4h-3zM687 154h2v4h-2zM687 158h2v4h-2zM703 162h6v4h-6zM689 166h3v4h-3zM703 166h17v4h-17zM706 174h3v3h-3zM720 174h3v3h-3zM731 174h3v3h-3zM709 181h5v4h-5z"/><path fill="rgb(135,243,0)" d="M829 104h11v4h-11zM831 108h9v4h-9zM728 116h3v4h-3zM745 120h6v4h-6zM770 120h3v4h-3zM781 120h3v4h-3zM787 120h3v4h-3zM806 120h6v4h-6zM826 120h5v4h-5zM712 124h11v3h-11zM834 124h14v3h-14zM717 127h6v4h-6zM851 127h3v4h-3zM870 127h6v4h-6zM692 131h17v4h-17zM714 131h3v4h-3zM859 131h11v4h-11zM687 135h2v4h-2zM698 135h8v4h-8zM709 135h8v4h-8zM681 139h6v4h-6zM684 147h3v3h-3zM692 150h3v4h-3zM703 150h6v4h-6zM706 154h3v4h-3zM706 158h3v4h-3zM689 162h3v4h-3zM700 162h3v4h-3zM692 166h3v4h-3zM700 166h3v4h-3zM709 170h3v4h-3zM714 170h3v4h-3zM720 170h3v4h-3zM709 177h3v4h-3zM714 177h3v4h-3z"/><path fill="rgb(160,248,0)" d="M759 89h3v4h-3zM681 97h6v3h-6zM781 97h3v3h-3zM831 100h9v4h-9zM726 104h2v4h-2zM767 104h3v4h-3zM826 104h3v4h-3zM840 104h3v4h-3zM728 108h3v4h-3zM767 108h3v4h-3zM829 108h2v4h-2zM840 108h3v4h-3zM728 112h6v4h-6zM834 112h3v4h-3zM726 116h2v4h-2zM731 116h14v4h-14zM753 116h3v4h-3zM759 116h8v4h-8zM720 120h3v4h-3zM773 120h8v4h-8zM784 120h3v4h-3zM790 120h2v4h-2zM801 120h5v4h-5zM812 120h14v4h-14zM831 120h3v4h-3zM837 120h11v4h-11zM695 124h17v3h-17zM848 124h3v3h-3zM870 124h6v3h-6zM698 127h5v4h-5zM706 127h3v4h-3zM712 127h5v4h-5zM854 127h2v4h-2zM868 127h2v4h-2zM687 131h5v4h-5zM709 131h5v4h-5zM856 131h3v4h-3zM681 135h6v4h-6zM695 150h3v4h-3zM700 150h3v4h-3zM689 154h3v4h-3zM703 154h3v4h-3zM689 158h3v4h-3zM700 158h6v4h-6zM692 162h3v4h-3zM695 166h5v4h-5zM712 170h2v4h-2zM717 170h3v4h-3zM714 174h6v3h-6zM712 177h2v4h-2z"/><path fill="rgb(182,250,0)" d="M759 81h3v4h-3zM756 85h14v4h-14zM756 89h3v4h-3zM762 89h11v4h-11zM681 93h6v4h-6zM737 93h3v4h-3zM759 93h3v4h-3zM765 93h2v4h-2zM770 93h3v4h-3zM776 93h11v4h-11zM740 97h2v3h-2zM770 97h11v3h-11zM784 97h8v3h-8zM829 97h8v3h-8zM765 100h11v4h-11zM826 100h5v4h-5zM840 100h3v4h-3zM723 104h3v4h-3zM728 104h3v4h-3zM765 104h2v4h-2zM770 104h6v4h-6zM823 104h3v4h-3zM726 108h2v4h-2zM731 108h3v4h-3zM762 108h5v4h-5zM770 108h3v4h-3zM815 108h3v4h-3zM820 108h9v4h-9zM726 112h2v4h-2zM734 112h11v4h-11zM748 112h22v4h-22zM829 112h5v4h-5zM837 112h8v4h-8zM723 116h3v4h-3zM745 116h3v4h-3zM751 116h2v4h-2zM756 116h3v4h-3zM829 116h2v4h-2zM834 116h6v4h-6zM712 120h8v4h-8zM792 120h9v4h-9zM834 120h3v4h-3zM848 120h3v4h-3zM851 124h5v3h-5zM868 124h2v3h-2zM681 127h3v4h-3zM692 127h6v4h-6zM703 127h3v4h-3zM709 127h3v4h-3zM859 127h9v4h-9zM681 131h6v4h-6zM698 150h2v4h-2zM692 154h6v4h-6zM700 154h3v4h-3zM692 158h8v4h-8zM695 162h5v4h-5zM709 174h5v3h-5z"/><path fill="rgb(202,250,0)" d="M748 81h3v4h-3zM762 81h8v4h-8zM745 85h11v4h-11zM770 85h8v4h-8zM737 89h3v4h-3zM745 89h11v4h-11zM773 89h5v4h-5zM740 93h2v4h-2zM753 93h6v4h-6zM762 93h3v4h-3zM767 93h3v4h-3zM773 93h3v4h-3zM787 93h5v4h-5zM820 93h3v4h-3zM826 93h8v4h-8zM737 97h3v3h-3zM748 97h3v3h-3zM756 97h14v3h-14zM815 97h8v3h-8zM826 97h3v3h-3zM837 97h6v3h-6zM681 100h6v4h-6zM726 100h5v4h-5zM740 100h2v4h-2zM762 100h3v4h-3zM776 100h11v4h-11zM812 100h14v4h-14zM731 104h6v4h-6zM745 104h6v4h-6zM776 104h2v4h-2zM815 104h8v4h-8zM843 104h5v4h-5zM873 104h3v4h-3zM723 108h3v4h-3zM734 108h19v4h-19zM773 108h5v4h-5zM812 108h3v4h-3zM818 108h2v4h-2zM843 108h5v4h-5zM723 112h3v4h-3zM745 112h3v4h-3zM770 112h8v4h-8zM815 112h3v4h-3zM820 112h9v4h-9zM845 112h3v4h-3zM748 116h3v4h-3zM767 116h3v4h-3zM815 116h3v4h-3zM820 116h9v4h-9zM831 116h3v4h-3zM840 116h8v4h-8zM709 120h3v4h-3zM851 120h3v4h-3zM873 120h3v4h-3zM681 124h6v3h-6zM689 124h6v3h-6zM856 124h12v3h-12zM684 127h8v4h-8zM856 127h3v4h-3zM698 154h2v4h-2z"/><path fill="rgb(223,250,0)" d="M759 74h6v3h-6zM759 77h11v4h-11zM745 81h3v4h-3zM751 81h8v4h-8zM770 81h8v4h-8zM740 85h5v4h-5zM778 85h3v4h-3zM734 89h3v4h-3zM740 89h5v4h-5zM778 89h6v4h-6zM687 93h2v4h-2zM731 93h6v4h-6zM742 93h11v4h-11zM806 93h3v4h-3zM812 93h8v4h-8zM823 93h3v4h-3zM834 93h9v4h-9zM845 93h3v4h-3zM687 97h2v3h-2zM731 97h6v3h-6zM742 97h6v3h-6zM751 97h5v3h-5zM792 97h3v3h-3zM809 97h6v3h-6zM823 97h3v3h-3zM843 97h5v3h-5zM723 100h3v4h-3zM731 100h3v4h-3zM737 100h3v4h-3zM742 100h11v4h-11zM756 100h6v4h-6zM787 100h5v4h-5zM806 100h6v4h-6zM843 100h8v4h-8zM873 100h3v4h-3zM737 104h8v4h-8zM751 104h2v4h-2zM756 104h9v4h-9zM806 104h9v4h-9zM848 104h6v4h-6zM870 104h3v4h-3zM753 108h9v4h-9zM778 108h6v4h-6zM806 108h6v4h-6zM848 108h6v4h-6zM870 108h6v4h-6zM720 112h3v4h-3zM778 112h6v4h-6zM812 112h3v4h-3zM818 112h2v4h-2zM848 112h3v4h-3zM681 116h3v4h-3zM712 116h2v4h-2zM717 116h6v4h-6zM770 116h14v4h-14zM812 116h3v4h-3zM818 116h2v4h-2zM848 116h3v4h-3zM681 120h6v4h-6zM698 120h11v4h-11zM854 120h2v4h-2zM865 120h8v4h-8zM687 124h2v3h-2z"/><path fill="rgb(238,246,0)" d="M765 74h5v3h-5zM748 77h5v4h-5zM756 77h3v4h-3zM770 77h6v4h-6zM740 81h5v4h-5zM734 85h6v4h-6zM818 85h13v4h-13zM731 89h3v4h-3zM784 89h3v4h-3zM818 89h16v4h-16zM843 89h2v4h-2zM792 93h6v4h-6zM801 93h5v4h-5zM809 93h3v4h-3zM843 93h2v4h-2zM848 93h6v4h-6zM873 93h3v4h-3zM723 97h8v3h-8zM795 97h14v3h-14zM848 97h6v3h-6zM870 97h3v3h-3zM687 100h5v4h-5zM734 100h3v4h-3zM753 100h3v4h-3zM792 100h3v4h-3zM801 100h5v4h-5zM851 100h3v4h-3zM870 100h3v4h-3zM681 104h3v4h-3zM720 104h3v4h-3zM753 104h3v4h-3zM778 104h9v4h-9zM801 104h5v4h-5zM854 104h2v4h-2zM868 104h2v4h-2zM681 108h3v4h-3zM854 108h2v4h-2zM868 108h2v4h-2zM681 112h6v4h-6zM717 112h3v4h-3zM784 112h3v4h-3zM809 112h3v4h-3zM851 112h3v4h-3zM870 112h6v4h-6zM684 116h3v4h-3zM709 116h3v4h-3zM714 116h3v4h-3zM784 116h3v4h-3zM806 116h6v4h-6zM687 120h2v4h-2zM695 120h3v4h-3zM856 120h9v4h-9z"/><path fill="rgb(244,237,0)" d="M759 66h3v4h-3zM759 70h3v4h-3zM756 74h3v3h-3zM770 74h3v3h-3zM745 77h3v4h-3zM753 77h3v4h-3zM776 77h2v4h-2zM734 81h6v4h-6zM778 81h3v4h-3zM818 81h2v4h-2zM823 81h3v4h-3zM731 85h3v4h-3zM781 85h3v4h-3zM804 85h5v4h-5zM815 85h3v4h-3zM831 85h6v4h-6zM843 85h2v4h-2zM848 85h3v4h-3zM873 85h3v4h-3zM681 89h8v4h-8zM787 89h5v4h-5zM804 89h14v4h-14zM834 89h9v4h-9zM845 89h6v4h-6zM873 89h3v4h-3zM689 93h3v4h-3zM695 93h3v4h-3zM728 93h3v4h-3zM798 93h3v4h-3zM862 93h11v4h-11zM689 97h6v3h-6zM868 97h2v3h-2zM873 97h3v3h-3zM720 100h3v4h-3zM795 100h6v4h-6zM854 100h2v4h-2zM862 100h8v4h-8zM684 104h3v4h-3zM717 104h3v4h-3zM787 104h3v4h-3zM856 104h12v4h-12zM684 108h8v4h-8zM717 108h6v4h-6zM784 108h6v4h-6zM801 108h5v4h-5zM856 108h12v4h-12zM687 112h2v4h-2zM709 112h8v4h-8zM787 112h3v4h-3zM801 112h3v4h-3zM806 112h3v4h-3zM854 112h2v4h-2zM868 112h2v4h-2zM703 116h6v4h-6zM787 116h3v4h-3zM804 116h2v4h-2zM851 116h3v4h-3zM868 116h8v4h-8zM689 120h6v4h-6z"/><path fill="rgb(250,227,0)" d="M756 66h3v4h-3zM762 66h3v4h-3zM795 66h3v4h-3zM756 70h3v4h-3zM762 70h3v4h-3zM740 74h8v3h-8zM751 74h5v3h-5zM773 74h5v3h-5zM818 74h2v3h-2zM740 77h5v4h-5zM815 77h5v4h-5zM823 77h11v4h-11zM689 81h3v4h-3zM731 81h3v4h-3zM815 81h3v4h-3zM820 81h3v4h-3zM826 81h25v4h-25zM684 85h16v4h-16zM784 85h3v4h-3zM801 85h3v4h-3zM809 85h6v4h-6zM837 85h6v4h-6zM845 85h3v4h-3zM851 85h3v4h-3zM859 85h14v4h-14zM689 89h11v4h-11zM728 89h3v4h-3zM798 89h6v4h-6zM851 89h5v4h-5zM859 89h14v4h-14zM692 93h3v4h-3zM698 93h2v4h-2zM854 93h2v4h-2zM859 93h3v4h-3zM695 97h3v3h-3zM854 97h2v3h-2zM862 97h6v3h-6zM692 100h6v4h-6zM717 100h3v4h-3zM856 100h6v4h-6zM687 104h13v4h-13zM714 104h3v4h-3zM790 104h11v4h-11zM692 108h3v4h-3zM712 108h5v4h-5zM790 108h2v4h-2zM798 108h3v4h-3zM700 112h9v4h-9zM790 112h2v4h-2zM804 112h2v4h-2zM856 112h6v4h-6zM865 112h3v4h-3zM687 116h2v4h-2zM700 116h3v4h-3zM790 116h2v4h-2zM798 116h6v4h-6zM854 116h2v4h-2zM859 116h9v4h-9z"/><path fill="rgb(255,218,0)" d="M751 66h5v4h-5zM790 66h5v4h-5zM798 66h3v4h-3zM753 70h3v4h-3zM784 70h6v4h-6zM812 70h3v4h-3zM748 74h3v3h-3zM778 74h3v3h-3zM812 74h6v3h-6zM734 77h6v4h-6zM778 77h3v4h-3zM812 77h3v4h-3zM820 77h3v4h-3zM834 77h3v4h-3zM840 77h8v4h-8zM684 81h5v4h-5zM781 81h3v4h-3zM790 81h2v4h-2zM804 81h11v4h-11zM851 81h3v4h-3zM862 81h3v4h-3zM873 81h3v4h-3zM681 85h3v4h-3zM728 85h3v4h-3zM790 85h11v4h-11zM854 85h5v4h-5zM792 89h6v4h-6zM856 89h3v4h-3zM723 93h5v4h-5zM856 93h3v4h-3zM698 97h2v3h-2zM717 97h6v3h-6zM856 97h6v3h-6zM698 100h2v4h-2zM700 104h3v4h-3zM709 104h5v4h-5zM695 108h8v4h-8zM709 108h3v4h-3zM792 108h6v4h-6zM689 112h11v4h-11zM792 112h3v4h-3zM798 112h3v4h-3zM862 112h3v4h-3zM689 116h11v4h-11zM792 116h6v4h-6zM856 116h3v4h-3z"/><path fill="rgb(255,207,0)" d="M756 62h3v4h-3zM787 66h3v4h-3zM806 66h3v4h-3zM815 66h3v4h-3zM734 70h3v4h-3zM740 70h2v4h-2zM751 70h2v4h-2zM765 70h5v4h-5zM790 70h2v4h-2zM795 70h9v4h-9zM806 70h3v4h-3zM815 70h5v4h-5zM731 74h9v3h-9zM781 74h6v3h-6zM790 74h2v3h-2zM820 74h11v3h-11zM840 74h5v3h-5zM684 77h8v4h-8zM731 77h3v4h-3zM781 77h6v4h-6zM804 77h8v4h-8zM837 77h3v4h-3zM848 77h3v4h-3zM681 81h3v4h-3zM692 81h6v4h-6zM728 81h3v4h-3zM784 81h3v4h-3zM801 81h3v4h-3zM854 81h8v4h-8zM865 81h8v4h-8zM787 85h3v4h-3zM700 89h3v4h-3zM700 93h3v4h-3zM717 93h6v4h-6zM700 100h3v4h-3zM714 100h3v4h-3zM703 104h6v4h-6zM703 108h6v4h-6zM795 112h3v4h-3z"/><path fill="rgb(255,196,0)" d="M753 62h3v4h-3zM759 62h6v4h-6zM790 62h8v4h-8zM717 66h9v4h-9zM731 66h11v4h-11zM748 66h3v4h-3zM765 66h2v4h-2zM778 66h3v4h-3zM784 66h3v4h-3zM801 66h5v4h-5zM809 66h6v4h-6zM818 66h2v4h-2zM728 70h6v4h-6zM737 70h3v4h-3zM742 70h9v4h-9zM770 70h6v4h-6zM778 70h6v4h-6zM792 70h3v4h-3zM804 70h2v4h-2zM809 70h3v4h-3zM681 74h11v3h-11zM698 74h8v3h-8zM728 74h3v3h-3zM787 74h3v3h-3zM806 74h6v3h-6zM831 74h9v3h-9zM845 74h3v3h-3zM681 77h3v4h-3zM692 77h14v4h-14zM728 77h3v4h-3zM790 77h2v4h-2zM801 77h3v4h-3zM851 77h11v4h-11zM873 77h3v4h-3zM698 81h5v4h-5zM787 81h3v4h-3zM792 81h9v4h-9zM700 85h3v4h-3zM723 89h5v4h-5zM700 97h3v3h-3zM709 100h5v4h-5z"/><path fill="rgb(255,185,0)" d="M795 58h3v4h-3zM717 62h6v4h-6zM751 62h2v4h-2zM787 62h3v4h-3zM798 62h11v4h-11zM815 62h3v4h-3zM726 66h5v4h-5zM742 66h6v4h-6zM767 66h11v4h-11zM781 66h3v4h-3zM862 66h14v4h-14zM700 70h3v4h-3zM717 70h3v4h-3zM723 70h5v4h-5zM776 70h2v4h-2zM865 70h11v4h-11zM692 74h6v3h-6zM706 74h3v3h-3zM792 74h14v3h-14zM848 74h28v3h-28zM706 77h3v4h-3zM787 77h3v4h-3zM798 77h3v4h-3zM862 77h11v4h-11zM703 81h3v4h-3zM726 81h2v4h-2zM703 85h3v4h-3zM723 85h5v4h-5zM703 89h6v4h-6zM717 89h3v4h-3zM714 93h3v4h-3zM714 97h3v3h-3zM703 100h6v4h-6z"/><path fill="rgb(253,174,0)" d="M717 58h6v4h-6zM759 58h6v4h-6zM790 58h5v4h-5zM723 62h3v4h-3zM748 62h3v4h-3zM773 62h3v4h-3zM784 62h3v4h-3zM809 62h6v4h-6zM818 62h2v4h-2zM684 66h3v4h-3zM700 66h3v4h-3zM714 66h3v4h-3zM681 70h11v4h-11zM695 70h5v4h-5zM703 70h3v4h-3zM720 70h3v4h-3zM820 70h3v4h-3zM840 70h8v4h-8zM862 70h3v4h-3zM723 74h5v3h-5zM726 77h2v4h-2zM792 77h3v4h-3zM706 81h6v4h-6zM723 81h3v4h-3zM706 85h6v4h-6zM717 85h3v4h-3zM709 89h3v4h-3zM720 89h3v4h-3zM703 93h11v4h-11zM703 97h11v3h-11z"/><path fill="rgb(252,163,0)" d="M717 54h6v4h-6zM759 54h3v4h-3zM787 54h11v4h-11zM815 54h3v4h-3zM751 58h8v4h-8zM765 58h5v4h-5zM773 58h3v4h-3zM787 58h3v4h-3zM798 58h11v4h-11zM815 58h5v4h-5zM714 62h3v4h-3zM726 62h22v4h-22zM765 62h8v4h-8zM776 62h8v4h-8zM681 66h3v4h-3zM687 66h5v4h-5zM698 66h2v4h-2zM712 66h2v4h-2zM820 66h3v4h-3zM840 66h3v4h-3zM692 70h3v4h-3zM706 70h3v4h-3zM714 70h3v4h-3zM823 70h6v4h-6zM848 70h3v4h-3zM859 70h3v4h-3zM714 74h9v3h-9zM709 77h11v4h-11zM723 77h3v4h-3zM795 77h3v4h-3zM712 81h11v4h-11zM712 85h5v4h-5zM720 85h3v4h-3zM712 89h5v4h-5z"/><path fill="rgb(250,152,0)" d="M815 47h3v3h-3zM815 50h3v4h-3zM723 54h3v4h-3zM753 54h6v4h-6zM762 54h14v4h-14zM784 54h3v4h-3zM798 54h8v4h-8zM812 54h3v4h-3zM818 54h2v4h-2zM714 58h3v4h-3zM723 58h5v4h-5zM748 58h3v4h-3zM770 58h3v4h-3zM776 58h2v4h-2zM784 58h3v4h-3zM809 58h6v4h-6zM706 62h3v4h-3zM712 62h2v4h-2zM820 62h3v4h-3zM862 62h8v4h-8zM692 66h6v4h-6zM703 66h6v4h-6zM823 66h3v4h-3zM843 66h8v4h-8zM859 66h3v4h-3zM712 70h2v4h-2zM829 70h11v4h-11zM851 70h8v4h-8zM709 74h5v3h-5zM720 77h3v4h-3z"/><path fill="rgb(246,141,0)" d="M815 43h3v4h-3zM726 47h5v3h-5zM787 47h3v3h-3zM818 47h2v3h-2zM717 50h9v4h-9zM759 50h3v4h-3zM787 50h5v4h-5zM812 50h3v4h-3zM818 50h2v4h-2zM714 54h3v4h-3zM726 54h2v4h-2zM745 54h3v4h-3zM751 54h2v4h-2zM776 54h2v4h-2zM806 54h6v4h-6zM706 58h3v4h-3zM712 58h2v4h-2zM742 58h6v4h-6zM778 58h6v4h-6zM820 58h3v4h-3zM700 62h6v4h-6zM709 62h3v4h-3zM823 62h3v4h-3zM870 62h6v4h-6zM709 66h3v4h-3zM826 66h3v4h-3zM834 66h6v4h-6zM851 66h8v4h-8zM709 70h3v4h-3z"/><path fill="rgb(240,130,0)" d="M759 43h3v4h-3zM703 47h3v3h-3zM717 47h9v3h-9zM731 47h6v3h-6zM759 47h3v3h-3zM784 47h3v3h-3zM790 47h2v3h-2zM812 47h3v3h-3zM706 50h3v4h-3zM726 50h11v4h-11zM756 50h3v4h-3zM762 50h11v4h-11zM784 50h3v4h-3zM792 50h6v4h-6zM809 50h3v4h-3zM706 54h8v4h-8zM728 54h9v4h-9zM742 54h3v4h-3zM748 54h3v4h-3zM778 54h6v4h-6zM820 54h3v4h-3zM703 58h3v4h-3zM709 58h3v4h-3zM728 58h14v4h-14zM823 58h3v4h-3zM695 62h5v4h-5zM845 62h17v4h-17zM829 66h2v4h-2z"/><path fill="rgb(234,119,0)" d="M684 35h3v4h-3zM753 35h3v4h-3zM759 35h3v4h-3zM815 35h3v4h-3zM684 39h3v4h-3zM753 39h9v4h-9zM815 39h5v4h-5zM700 43h6v4h-6zM720 43h8v4h-8zM737 43h3v4h-3zM756 43h3v4h-3zM784 43h8v4h-8zM812 43h3v4h-3zM818 43h2v4h-2zM700 47h3v3h-3zM706 47h3v3h-3zM714 47h3v3h-3zM737 47h3v3h-3zM756 47h3v3h-3zM762 47h3v3h-3zM770 47h3v3h-3zM781 47h3v3h-3zM792 47h3v3h-3zM798 47h6v3h-6zM809 47h3v3h-3zM820 47h3v3h-3zM700 50h6v4h-6zM714 50h3v4h-3zM737 50h5v4h-5zM745 50h3v4h-3zM753 50h3v4h-3zM773 50h3v4h-3zM778 50h6v4h-6zM798 50h11v4h-11zM820 50h3v4h-3zM700 54h6v4h-6zM737 54h5v4h-5zM823 54h3v4h-3zM700 58h3v4h-3zM862 58h8v4h-8zM692 62h3v4h-3zM826 62h3v4h-3zM840 62h5v4h-5zM831 66h3v4h-3z"/><path fill="rgb(228,108,0)" d="M681 35h3v4h-3zM723 35h3v4h-3zM751 35h2v4h-2zM756 35h3v4h-3zM778 35h9v4h-9zM790 35h2v4h-2zM812 35h3v4h-3zM818 35h2v4h-2zM681 39h3v4h-3zM723 39h3v4h-3zM762 39h3v4h-3zM781 39h11v4h-11zM706 43h3v4h-3zM717 43h3v4h-3zM728 43h3v4h-3zM734 43h3v4h-3zM740 43h2v4h-2zM753 43h3v4h-3zM762 43h3v4h-3zM781 43h3v4h-3zM792 43h3v4h-3zM798 43h8v4h-8zM809 43h3v4h-3zM820 43h6v4h-6zM698 47h2v3h-2zM712 47h2v3h-2zM740 47h5v3h-5zM753 47h3v3h-3zM765 47h5v3h-5zM773 47h8v3h-8zM795 47h3v3h-3zM804 47h5v3h-5zM823 47h3v3h-3zM851 47h3v3h-3zM695 50h5v4h-5zM709 50h5v4h-5zM742 50h3v4h-3zM748 50h5v4h-5zM776 50h2v4h-2zM823 50h3v4h-3zM851 50h3v4h-3zM695 54h5v4h-5zM859 54h9v4h-9zM695 58h5v4h-5zM843 58h2v4h-2zM856 58h6v4h-6zM687 62h5v4h-5zM834 62h6v4h-6z"/><path fill="rgb(222,98,0)" d="M687 35h5v4h-5zM698 35h8v4h-8zM717 35h6v4h-6zM726 35h2v4h-2zM737 35h8v4h-8zM748 35h3v4h-3zM762 35h3v4h-3zM787 35h3v4h-3zM795 35h17v4h-17zM820 35h3v4h-3zM687 39h2v4h-2zM698 39h8v4h-8zM720 39h3v4h-3zM726 39h5v4h-5zM737 39h8v4h-8zM748 39h5v4h-5zM778 39h3v4h-3zM792 39h14v4h-14zM809 39h6v4h-6zM820 39h3v4h-3zM698 43h2v4h-2zM731 43h3v4h-3zM742 43h3v4h-3zM765 43h8v4h-8zM778 43h3v4h-3zM795 43h3v4h-3zM806 43h3v4h-3zM695 47h3v3h-3zM709 47h3v3h-3zM745 47h8v3h-8zM848 47h3v3h-3zM848 50h3v4h-3zM854 50h2v4h-2zM848 54h11v4h-11zM868 54h2v4h-2zM826 58h3v4h-3zM845 58h11v4h-11zM870 58h6v4h-6zM681 62h6v4h-6zM829 62h5v4h-5z"/><path fill="rgb(216,87,0)" d="M692 35h6v4h-6zM706 35h3v4h-3zM714 35h3v4h-3zM728 35h3v4h-3zM745 35h3v4h-3zM765 35h2v4h-2zM770 35h8v4h-8zM792 35h3v4h-3zM823 35h3v4h-3zM689 39h9v4h-9zM706 39h3v4h-3zM717 39h3v4h-3zM731 39h6v4h-6zM745 39h3v4h-3zM770 39h8v4h-8zM806 39h3v4h-3zM823 39h3v4h-3zM681 43h8v4h-8zM695 43h3v4h-3zM714 43h3v4h-3zM745 43h8v4h-8zM773 43h5v4h-5zM826 47h3v3h-3zM845 47h3v3h-3zM854 47h5v3h-5zM845 50h3v4h-3zM856 50h9v4h-9zM692 54h3v4h-3zM826 54h3v4h-3zM843 54h5v4h-5zM870 54h6v4h-6zM692 58h3v4h-3zM840 58h3v4h-3z"/><path fill="rgb(210,76,0)" d="M731 35h6v4h-6zM767 35h3v4h-3zM765 39h5v4h-5zM689 43h6v4h-6zM709 43h5v4h-5zM826 43h3v4h-3zM843 47h2v3h-2zM859 47h3v3h-3zM692 50h3v4h-3zM826 50h3v4h-3zM843 50h2v4h-2zM865 50h3v4h-3zM837 54h6v4h-6zM689 58h3v4h-3zM834 58h6v4h-6z"/><path fill="rgb(205,65,0)" d="M826 35h3v4h-3zM714 39h3v4h-3zM826 39h3v4h-3zM681 47h14v3h-14zM862 47h3v3h-3zM681 50h11v4h-11zM840 50h3v4h-3zM689 54h3v4h-3zM831 54h6v4h-6zM829 58h5v4h-5z"/><path fill="rgb(199,54,0)" d="M709 35h5v4h-5zM709 39h3v4h-3zM829 43h2v4h-2zM845 43h17v4h-17zM840 47h3v3h-3zM865 47h3v3h-3zM834 50h6v4h-6zM868 50h2v4h-2zM687 54h2v4h-2zM829 54h2v4h-2zM687 58h2v4h-2z"/><path fill="rgb(194,42,0)" d="M829 35h2v4h-2zM712 39h2v4h-2zM831 43h3v4h-3zM840 43h5v4h-5zM862 43h3v4h-3zM829 47h5v3h-5zM837 47h3v3h-3zM868 47h2v3h-2zM829 50h5v4h-5zM681 54h6v4h-6zM681 58h6v4h-6z"/><path fill="rgb(186,28,0)" d="M831 35h3v4h-3zM856 35h6v4h-6zM873 35h3v4h-3zM829 39h5v4h-5zM870 39h6v4h-6zM834 43h6v4h-6zM865 43h11v4h-11zM834 47h3v3h-3zM870 47h3v3h-3zM870 50h6v4h-6z"/><path fill="rgb(179,14,0)" d="M834 35h6v4h-6zM862 35h11v4h-11zM834 39h11v4h-11zM856 39h14v4h-14zM873 47h3v3h-3z"/><path fill="rgb(172,0,0)" d="M840 35h16v4h-16zM845 39h11v4h-11z"/>
<path fill="rgb(0,182,244)" d="M773 445h3v4h-3zM773 449h3v3h-3zM773 452h3v4h-3z"/><path fill="rgb(0,195,238)" d="M770 445h3v4h-3zM770 449h3v3h-3zM770 452h3v4h-3z"/><path fill="rgb(0,200,218)" d="M767 445h3v4h-3zM776 445h2v4h-2zM767 449h3v3h-3zM776 449h2v3h-2zM767 452h3v4h-3zM776 452h2v4h-2zM773 456h3v4h-3z"/><path fill="rgb(0,200,190)" d="M773 441h3v4h-3zM770 456h3v4h-3z"/><path fill="rgb(0,195,165)" d="M837 341h3v4h-3zM834 345h9v4h-9zM834 349h9v4h-9zM695 395h5v4h-5zM795 395h3v4h-3zM795 399h3v4h-3zM770 441h3v4h-3zM776 441h2v4h-2zM767 456h3v4h-3zM776 456h2v4h-2zM698 537h2v4h-2zM695 541h8v3h-8z"/><path fill="rgb(0,190,139)" d="M773 326h3v4h-3zM773 330h3v4h-3zM773 334h3v4h-3zM773 338h3v3h-3zM831 341h6v4h-6zM840 341h5v4h-5zM829 345h5v4h-5zM843 345h2v4h-2zM829 349h5v4h-5zM843 349h2v4h-2zM834 353h9v4h-9zM698 391h2v4h-2zM692 395h3v4h-3zM700 395h3v4h-3zM792 395h3v4h-3zM798 395h3v4h-3zM695 399h5v4h-5zM798 399h3v4h-3zM767 441h3v4h-3zM765 445h2v4h-2zM778 445h3v4h-3zM765 449h2v3h-2zM778 449h3v3h-3zM765 452h2v4h-2zM856 491h3v4h-3zM856 495h6v3h-6zM856 498h6v4h-6zM856 502h3v4h-3zM698 533h8v4h-8zM695 537h3v4h-3zM700 537h6v4h-6zM692 541h3v3h-3zM703 541h3v3h-3zM695 544h8v4h-8z"/><path fill="rgb(0,185,110)" d="M770 326h3v4h-3zM776 326h2v4h-2zM770 330h3v4h-3zM776 330h2v4h-2zM770 334h3v4h-3zM776 334h2v4h-2zM770 338h3v3h-3zM776 338h2v3h-2zM834 338h6v3h-6zM773 341h3v4h-3zM826 341h5v4h-5zM845 341h3v4h-3zM826 345h3v4h-3zM845 345h3v4h-3zM826 349h3v4h-3zM845 349h3v4h-3zM829 353h5v4h-5zM843 353h2v4h-2zM834 357h9v3h-9zM695 391h3v4h-3zM795 391h3v4h-3zM801 395h3v4h-3zM692 399h3v4h-3zM700 399h3v4h-3zM792 399h3v4h-3zM801 399h3v4h-3zM692 403h8v3h-8zM792 403h9v3h-9zM773 437h3v4h-3zM778 452h3v4h-3zM765 456h2v4h-2zM770 460h6v4h-6zM823 460h6v4h-6zM823 464h8v4h-8zM823 468h8v4h-8zM823 472h8v4h-8zM856 483h3v4h-3zM856 487h6v4h-6zM854 491h2v4h-2zM859 491h3v4h-3zM854 495h2v3h-2zM862 495h3v3h-3zM854 498h2v4h-2zM862 498h3v4h-3zM854 502h2v4h-2zM859 502h3v4h-3zM856 506h6v4h-6zM801 510h3v4h-3zM856 510h3v4h-3zM801 514h3v4h-3zM698 529h8v4h-8zM695 533h3v4h-3zM706 533h3v4h-3zM692 537h3v4h-3zM706 537h3v4h-3zM689 541h3v3h-3zM706 541h3v3h-3zM692 544h3v4h-3zM703 544h3v4h-3zM698 548h2v4h-2z"/><path fill="rgb(0,185,84)" d="M767 326h3v4h-3zM829 338h5v3h-5zM840 338h5v3h-5zM776 341h2v4h-2zM823 341h3v4h-3zM823 345h3v4h-3zM823 349h3v4h-3zM848 349h3v4h-3zM826 353h3v4h-3zM845 353h3v4h-3zM829 357h5v3h-5zM843 357h2v3h-2zM834 360h9v4h-9zM695 387h5v4h-5zM689 391h6v4h-6zM700 391h3v4h-3zM792 391h3v4h-3zM798 391h6v4h-6zM689 395h3v4h-3zM703 395h3v4h-3zM790 395h2v4h-2zM804 395h2v4h-2zM689 399h3v4h-3zM703 399h3v4h-3zM790 399h2v4h-2zM804 399h2v4h-2zM689 403h3v3h-3zM700 403h3v3h-3zM801 403h3v3h-3zM692 406h8v4h-8zM792 406h6v4h-6zM870 433h6v4h-6zM767 437h6v4h-6zM776 437h2v4h-2zM765 441h2v4h-2zM778 441h3v4h-3zM778 456h3v4h-3zM818 456h11v4h-11zM767 460h3v4h-3zM776 460h2v4h-2zM818 460h5v4h-5zM829 460h2v4h-2zM818 464h5v4h-5zM831 464h3v4h-3zM820 468h3v4h-3zM831 468h3v4h-3zM820 472h3v4h-3zM831 472h3v4h-3zM854 483h2v4h-2zM859 483h3v4h-3zM854 487h2v4h-2zM862 487h3v4h-3zM851 491h3v4h-3zM862 491h3v4h-3zM851 495h3v3h-3zM851 498h3v4h-3zM851 502h3v4h-3zM862 502h3v4h-3zM801 506h3v4h-3zM851 506h5v4h-5zM862 506h3v4h-3zM798 510h3v4h-3zM804 510h2v4h-2zM854 510h2v4h-2zM859 510h3v4h-3zM798 514h3v4h-3zM804 514h2v4h-2zM854 514h8v4h-8zM801 518h8v4h-8zM856 518h3v4h-3zM856 522h3v3h-3zM695 529h3v4h-3zM706 529h3v4h-3zM692 533h3v4h-3zM709 533h3v4h-3zM689 537h3v4h-3zM709 537h3v4h-3zM687 541h2v3h-2zM709 541h3v3h-3zM689 544h3v4h-3zM706 544h6v4h-6zM692 548h6v4h-6zM700 548h9v4h-9zM692 552h14v4h-14z"/><path fill="rgb(0,188,61)" d="M778 326h3v4h-3zM767 330h3v4h-3zM778 330h3v4h-3zM767 334h3v4h-3zM778 334h3v4h-3zM767 338h3v3h-3zM778 338h3v3h-3zM823 338h6v3h-6zM845 338h3v3h-3zM770 341h3v4h-3zM778 341h3v4h-3zM820 341h3v4h-3zM848 341h3v4h-3zM773 345h3v4h-3zM820 345h3v4h-3zM848 345h3v4h-3zM820 349h3v4h-3zM820 353h6v4h-6zM848 353h3v4h-3zM826 357h3v3h-3zM845 357h3v3h-3zM829 360h5v4h-5zM843 360h2v4h-2zM834 364h6v4h-6zM695 380h8v4h-8zM692 384h11v3h-11zM689 387h6v4h-6zM700 387h6v4h-6zM792 387h12v4h-12zM703 391h3v4h-3zM790 391h2v4h-2zM804 391h2v4h-2zM687 395h2v4h-2zM706 395h3v4h-3zM687 399h2v4h-2zM687 403h2v3h-2zM703 403h3v3h-3zM790 403h2v3h-2zM804 403h2v3h-2zM689 406h3v4h-3zM700 406h3v4h-3zM790 406h2v4h-2zM798 406h6v4h-6zM870 430h6v3h-6zM868 433h2v4h-2zM870 437h6v4h-6zM762 445h3v4h-3zM781 445h3v4h-3zM762 449h3v3h-3zM781 449h3v3h-3zM762 452h3v4h-3zM815 452h14v4h-14zM815 456h3v4h-3zM829 456h2v4h-2zM765 460h2v4h-2zM815 460h3v4h-3zM831 460h3v4h-3zM815 464h3v4h-3zM834 464h3v4h-3zM818 468h2v4h-2zM834 468h3v4h-3zM818 472h2v4h-2zM834 472h3v4h-3zM826 476h11v3h-11zM848 483h6v4h-6zM862 483h3v4h-3zM851 487h3v4h-3zM865 487h3v4h-3zM865 491h3v4h-3zM865 495h3v3h-3zM865 498h3v4h-3zM801 502h3v4h-3zM865 502h3v4h-3zM795 506h6v4h-6zM804 506h2v4h-2zM865 506h3v4h-3zM795 510h3v4h-3zM806 510h3v4h-3zM851 510h3v4h-3zM862 510h3v4h-3zM795 514h3v4h-3zM806 514h3v4h-3zM851 514h3v4h-3zM862 514h3v4h-3zM798 518h3v4h-3zM809 518h3v4h-3zM851 518h5v4h-5zM859 518h3v4h-3zM801 522h11v3h-11zM851 522h5v3h-5zM859 522h3v3h-3zM698 525h8v4h-8zM851 525h11v4h-11zM692 529h3v4h-3zM709 529h3v4h-3zM851 529h11v4h-11zM689 533h3v4h-3zM712 533h2v4h-2zM856 533h3v4h-3zM687 537h2v4h-2zM712 537h2v4h-2zM684 541h3v3h-3zM712 541h2v3h-2zM687 544h2v4h-2zM712 544h2v4h-2zM689 548h3v4h-3zM709 548h3v4h-3zM689 552h3v4h-3zM706 552h6v4h-6z"/><path fill="rgb(2,196,44)" d="M765 326h2v4h-2zM765 330h2v4h-2zM765 334h2v4h-2zM781 338h3v3h-3zM820 338h3v3h-3zM767 341h3v4h-3zM781 341h3v4h-3zM818 341h2v4h-2zM770 345h3v4h-3zM776 345h5v4h-5zM815 345h5v4h-5zM851 345h3v4h-3zM815 349h5v4h-5zM851 349h3v4h-3zM818 353h2v4h-2zM851 353h3v4h-3zM820 357h6v3h-6zM848 357h3v3h-3zM823 360h6v4h-6zM845 360h6v4h-6zM829 364h5v4h-5zM840 364h8v4h-8zM837 368h3v4h-3zM695 376h11v4h-11zM692 380h3v4h-3zM703 380h3v4h-3zM689 384h3v3h-3zM703 384h6v3h-6zM706 387h3v4h-3zM790 387h2v4h-2zM804 387h5v4h-5zM687 391h2v4h-2zM706 391h3v4h-3zM787 391h3v4h-3zM806 391h3v4h-3zM684 395h3v4h-3zM784 395h6v4h-6zM806 395h3v4h-3zM684 399h3v4h-3zM706 399h3v4h-3zM784 399h6v4h-6zM806 399h3v4h-3zM684 403h3v3h-3zM706 403h3v3h-3zM784 403h6v3h-6zM806 403h3v3h-3zM687 406h2v4h-2zM703 406h3v4h-3zM784 406h6v4h-6zM804 406h5v4h-5zM695 410h5v4h-5zM790 410h14v4h-14zM870 426h6v4h-6zM868 430h2v3h-2zM773 433h3v4h-3zM862 433h6v4h-6zM700 437h6v4h-6zM765 437h2v4h-2zM778 437h3v4h-3zM865 437h5v4h-5zM698 441h11v4h-11zM762 441h3v4h-3zM781 441h3v4h-3zM700 445h9v4h-9zM820 445h3v4h-3zM815 449h14v3h-14zM781 452h3v4h-3zM812 452h3v4h-3zM829 452h2v4h-2zM762 456h3v4h-3zM781 456h3v4h-3zM812 456h3v4h-3zM831 456h3v4h-3zM778 460h3v4h-3zM812 460h3v4h-3zM834 460h3v4h-3zM767 464h9v4h-9zM812 464h3v4h-3zM812 468h6v4h-6zM837 468h3v4h-3zM815 472h3v4h-3zM837 472h3v4h-3zM820 476h6v3h-6zM837 476h3v3h-3zM831 479h12v4h-12zM854 479h5v4h-5zM843 483h5v4h-5zM865 483h3v4h-3zM848 487h3v4h-3zM868 487h2v4h-2zM848 491h3v4h-3zM868 491h2v4h-2zM848 495h3v3h-3zM868 495h2v3h-2zM848 498h3v4h-3zM795 502h6v4h-6zM804 502h2v4h-2zM848 502h3v4h-3zM792 506h3v4h-3zM806 506h3v4h-3zM848 506h3v4h-3zM709 510h22v4h-22zM792 510h3v4h-3zM809 510h3v4h-3zM848 510h3v4h-3zM865 510h3v4h-3zM792 514h3v4h-3zM809 514h3v4h-3zM865 514h3v4h-3zM795 518h3v4h-3zM862 518h3v4h-3zM798 522h3v3h-3zM812 522h3v3h-3zM862 522h3v3h-3zM695 525h3v4h-3zM706 525h3v4h-3zM862 525h3v4h-3zM689 529h3v4h-3zM712 529h2v4h-2zM862 529h3v4h-3zM687 533h2v4h-2zM714 533h3v4h-3zM851 533h5v4h-5zM859 533h3v4h-3zM681 537h6v4h-6zM714 537h3v4h-3zM856 537h3v4h-3zM681 541h3v3h-3zM714 541h3v3h-3zM681 544h6v4h-6zM714 544h3v4h-3zM684 548h5v4h-5zM712 548h5v4h-5zM687 552h2v4h-2zM712 552h5v4h-5z"/><path fill="rgb(3,204,27)" d="M762 326h3v4h-3zM781 326h6v4h-6zM762 330h3v4h-3zM781 330h6v4h-6zM781 334h6v4h-6zM765 338h2v3h-2zM784 338h3v3h-3zM815 338h5v3h-5zM848 338h3v3h-3zM765 341h2v4h-2zM784 341h6v4h-6zM812 341h6v4h-6zM851 341h3v4h-3zM767 345h3v4h-3zM781 345h34v4h-34zM773 349h19v4h-19zM804 349h11v4h-11zM815 353h3v4h-3zM818 357h2v3h-2zM851 357h3v3h-3zM820 360h3v4h-3zM851 360h3v4h-3zM823 364h6v4h-6zM848 364h3v4h-3zM829 368h8v4h-8zM840 368h8v4h-8zM689 372h17v4h-17zM687 376h8v4h-8zM706 376h3v4h-3zM687 380h5v4h-5zM706 380h6v4h-6zM687 384h2v3h-2zM709 384h3v3h-3zM787 384h25v3h-25zM687 387h2v4h-2zM709 387h3v4h-3zM784 387h6v4h-6zM809 387h6v4h-6zM681 391h6v4h-6zM709 391h3v4h-3zM781 391h6v4h-6zM809 391h6v4h-6zM681 395h3v4h-3zM709 395h3v4h-3zM778 395h6v4h-6zM809 395h6v4h-6zM681 399h3v4h-3zM709 399h3v4h-3zM776 399h8v4h-8zM809 399h3v4h-3zM681 403h3v3h-3zM709 403h3v3h-3zM762 403h22v3h-22zM809 403h3v3h-3zM681 406h6v4h-6zM706 406h6v4h-6zM751 406h33v4h-33zM809 406h3v4h-3zM687 410h8v4h-8zM700 410h6v4h-6zM751 410h39v4h-39zM804 410h8v4h-8zM753 414h25v4h-25zM756 418h22v4h-22zM868 426h2v4h-2zM767 430h11v3h-11zM862 430h6v3h-6zM695 433h11v4h-11zM765 433h8v4h-8zM776 433h5v4h-5zM859 433h3v4h-3zM695 437h5v4h-5zM706 437h3v4h-3zM762 437h3v4h-3zM781 437h3v4h-3zM862 437h3v4h-3zM692 441h6v4h-6zM709 441h3v4h-3zM784 441h3v4h-3zM815 441h11v4h-11zM868 441h8v4h-8zM695 445h5v4h-5zM709 445h5v4h-5zM784 445h3v4h-3zM812 445h8v4h-8zM823 445h6v4h-6zM784 449h3v3h-3zM809 449h6v3h-6zM829 449h2v3h-2zM784 452h3v4h-3zM806 452h6v4h-6zM831 452h3v4h-3zM784 456h3v4h-3zM806 456h6v4h-6zM834 456h3v4h-3zM762 460h3v4h-3zM781 460h3v4h-3zM806 460h6v4h-6zM762 464h5v4h-5zM776 464h2v4h-2zM806 464h6v4h-6zM837 464h3v4h-3zM765 468h11v4h-11zM809 468h3v4h-3zM812 472h3v4h-3zM840 472h3v4h-3zM818 476h2v3h-2zM840 476h5v3h-5zM826 479h5v4h-5zM843 479h11v4h-11zM859 479h6v4h-6zM837 483h6v4h-6zM868 483h2v4h-2zM845 487h3v4h-3zM795 498h9v4h-9zM868 498h2v4h-2zM695 502h17v4h-17zM792 502h3v4h-3zM868 502h2v4h-2zM698 506h36v4h-36zM868 506h2v4h-2zM700 510h9v4h-9zM731 510h3v4h-3zM790 510h2v4h-2zM703 514h23v4h-23zM790 514h2v4h-2zM812 514h3v4h-3zM848 514h3v4h-3zM790 518h5v4h-5zM812 518h3v4h-3zM848 518h3v4h-3zM865 518h3v4h-3zM698 522h8v3h-8zM795 522h3v3h-3zM848 522h3v3h-3zM865 522h3v3h-3zM692 525h3v4h-3zM709 525h3v4h-3zM806 525h9v4h-9zM848 525h3v4h-3zM865 525h3v4h-3zM687 529h2v4h-2zM714 529h3v4h-3zM848 529h3v4h-3zM865 529h3v4h-3zM681 533h6v4h-6zM717 533h3v4h-3zM848 533h3v4h-3zM862 533h6v4h-6zM717 537h3v4h-3zM851 537h5v4h-5zM859 537h6v4h-6zM717 541h6v3h-6zM856 541h6v3h-6zM717 544h6v4h-6zM681 548h3v4h-3zM717 548h6v4h-6zM681 552h6v4h-6zM717 552h6v4h-6z"/><path fill="rgb(5,212,10)" d="M717 326h6v4h-6zM745 326h17v4h-17zM787 326h5v4h-5zM717 330h6v4h-6zM748 330h14v4h-14zM787 330h5v4h-5zM717 334h9v4h-9zM762 334h3v4h-3zM787 334h8v4h-8zM823 334h14v4h-14zM717 338h11v3h-11zM762 338h3v3h-3zM787 338h17v3h-17zM812 338h3v3h-3zM790 341h22v4h-22zM765 345h2v4h-2zM854 345h2v4h-2zM740 349h2v4h-2zM767 349h6v4h-6zM792 349h12v4h-12zM854 349h2v4h-2zM776 353h8v4h-8zM809 353h6v4h-6zM854 353h2v4h-2zM745 357h3v3h-3zM815 357h3v3h-3zM854 357h2v3h-2zM865 357h11v3h-11zM745 360h3v4h-3zM818 360h2v4h-2zM854 360h2v4h-2zM862 360h14v4h-14zM681 364h19v4h-19zM818 364h5v4h-5zM851 364h5v4h-5zM862 364h14v4h-14zM681 368h28v4h-28zM820 368h9v4h-9zM848 368h6v4h-6zM862 368h14v4h-14zM681 372h8v4h-8zM706 372h6v4h-6zM831 372h20v4h-20zM681 376h6v4h-6zM709 376h5v4h-5zM781 376h9v4h-9zM809 376h11v4h-11zM681 380h6v4h-6zM712 380h2v4h-2zM778 380h42v4h-42zM681 384h6v3h-6zM712 384h2v3h-2zM778 384h9v3h-9zM812 384h6v3h-6zM681 387h6v4h-6zM712 387h2v4h-2zM778 387h6v4h-6zM815 387h3v4h-3zM712 391h2v4h-2zM776 391h5v4h-5zM815 391h3v4h-3zM712 395h2v4h-2zM767 395h11v4h-11zM815 395h3v4h-3zM712 399h2v4h-2zM762 399h14v4h-14zM812 399h6v4h-6zM712 403h2v3h-2zM753 403h9v3h-9zM812 403h3v3h-3zM712 406h2v4h-2zM737 406h14v4h-14zM812 406h3v4h-3zM681 410h6v4h-6zM706 410h6v4h-6zM737 410h14v4h-14zM812 410h3v4h-3zM737 414h16v4h-16zM778 414h40v4h-40zM740 418h16v4h-16zM778 418h12v4h-12zM809 418h11v4h-11zM742 422h45v4h-45zM812 422h14v4h-14zM870 422h6v4h-6zM751 426h33v4h-33zM815 426h33v4h-33zM865 426h3v4h-3zM759 430h8v3h-8zM778 430h6v3h-6zM815 430h36v3h-36zM692 433h3v4h-3zM706 433h3v4h-3zM759 433h6v4h-6zM781 433h3v4h-3zM815 433h44v4h-44zM687 437h8v4h-8zM709 437h3v4h-3zM759 437h3v4h-3zM812 437h22v4h-22zM859 437h3v4h-3zM681 441h11v4h-11zM712 441h2v4h-2zM759 441h3v4h-3zM809 441h6v4h-6zM826 441h5v4h-5zM865 441h3v4h-3zM681 445h14v4h-14zM714 445h3v4h-3zM759 445h3v4h-3zM806 445h6v4h-6zM829 445h2v4h-2zM870 445h6v4h-6zM700 449h12v3h-12zM759 449h3v3h-3zM787 449h3v3h-3zM804 449h5v3h-5zM831 449h3v3h-3zM759 452h3v4h-3zM787 452h19v4h-19zM834 452h3v4h-3zM759 456h3v4h-3zM787 456h19v4h-19zM759 460h3v4h-3zM784 460h22v4h-22zM837 460h3v4h-3zM759 464h3v4h-3zM778 464h28v4h-28zM840 464h3v4h-3zM759 468h6v4h-6zM776 468h2v4h-2zM806 468h3v4h-3zM840 468h3v4h-3zM759 472h14v4h-14zM809 472h3v4h-3zM843 472h2v4h-2zM759 476h6v3h-6zM815 476h3v3h-3zM845 476h6v3h-6zM759 479h3v4h-3zM823 479h3v4h-3zM865 479h11v4h-11zM759 483h3v4h-3zM831 483h6v4h-6zM870 483h6v4h-6zM843 487h2v4h-2zM870 487h6v4h-6zM753 491h3v4h-3zM845 491h3v4h-3zM870 491h6v4h-6zM792 495h9v3h-9zM845 495h3v3h-3zM870 495h6v3h-6zM692 498h17v4h-17zM745 498h3v4h-3zM792 498h3v4h-3zM804 498h2v4h-2zM845 498h3v4h-3zM870 498h3v4h-3zM692 502h3v4h-3zM712 502h36v4h-36zM790 502h2v4h-2zM806 502h3v4h-3zM692 506h6v4h-6zM734 506h6v4h-6zM790 506h2v4h-2zM809 506h3v4h-3zM695 510h5v4h-5zM734 510h6v4h-6zM812 510h3v4h-3zM868 510h2v4h-2zM695 514h8v4h-8zM726 514h5v4h-5zM787 514h3v4h-3zM698 518h16v4h-16zM787 518h3v4h-3zM815 518h3v4h-3zM695 522h3v3h-3zM706 522h6v3h-6zM773 522h22v3h-22zM815 522h3v3h-3zM689 525h3v4h-3zM712 525h5v4h-5zM773 525h8v4h-8zM801 525h5v4h-5zM815 525h3v4h-3zM684 529h3v4h-3zM717 529h3v4h-3zM773 529h5v4h-5zM812 529h6v4h-6zM845 529h3v4h-3zM720 533h3v4h-3zM815 533h3v4h-3zM720 537h3v4h-3zM815 537h5v4h-5zM848 537h3v4h-3zM865 537h3v4h-3zM723 541h3v3h-3zM815 541h11v3h-11zM851 541h5v3h-5zM862 541h6v3h-6zM723 544h3v4h-3zM815 544h11v4h-11zM854 544h16v4h-16zM723 548h3v4h-3zM815 548h11v4h-11zM856 548h20v4h-20zM723 552h5v4h-5zM751 552h5v4h-5zM815 552h11v4h-11zM856 552h20v4h-20z"/><path fill="rgb(32,219,7)" d="M714 326h3v4h-3zM723 326h5v4h-5zM792 326h3v4h-3zM870 326h6v4h-6zM714 330h3v4h-3zM723 330h5v4h-5zM745 330h3v4h-3zM792 330h6v4h-6zM714 334h3v4h-3zM726 334h5v4h-5zM745 334h6v4h-6zM756 334h6v4h-6zM795 334h3v4h-3zM818 334h5v4h-5zM837 334h3v4h-3zM714 338h3v3h-3zM728 338h6v3h-6zM759 338h3v3h-3zM804 338h8v3h-8zM851 338h3v3h-3zM717 341h20v4h-20zM762 341h3v4h-3zM854 341h2v4h-2zM731 345h14v4h-14zM734 349h6v4h-6zM742 349h6v4h-6zM765 349h2v4h-2zM865 349h11v4h-11zM737 353h14v4h-14zM770 353h6v4h-6zM784 353h6v4h-6zM806 353h3v4h-3zM862 353h14v4h-14zM740 357h5v3h-5zM748 357h3v3h-3zM778 357h6v3h-6zM812 357h3v3h-3zM856 357h9v3h-9zM681 360h22v4h-22zM740 360h5v4h-5zM748 360h3v4h-3zM815 360h3v4h-3zM856 360h6v4h-6zM700 364h9v4h-9zM740 364h13v4h-13zM815 364h3v4h-3zM856 364h6v4h-6zM709 368h5v4h-5zM815 368h5v4h-5zM854 368h8v4h-8zM712 372h2v4h-2zM778 372h6v4h-6zM812 372h19v4h-19zM851 372h25v4h-25zM714 376h6v4h-6zM776 376h5v4h-5zM790 376h2v4h-2zM806 376h3v4h-3zM820 376h6v4h-6zM834 376h42v4h-42zM714 380h6v4h-6zM773 380h5v4h-5zM820 380h3v4h-3zM854 380h22v4h-22zM714 384h6v3h-6zM770 384h8v3h-8zM818 384h2v3h-2zM856 384h20v3h-20zM714 387h6v4h-6zM767 387h11v4h-11zM818 387h2v4h-2zM868 387h8v4h-8zM714 391h3v4h-3zM765 391h11v4h-11zM818 391h2v4h-2zM762 395h5v4h-5zM818 395h2v4h-2zM756 399h6v4h-6zM818 399h2v4h-2zM737 403h16v3h-16zM815 403h3v3h-3zM734 406h3v4h-3zM815 406h3v4h-3zM712 410h2v4h-2zM734 410h3v4h-3zM815 410h5v4h-5zM681 414h33v4h-33zM734 414h3v4h-3zM818 414h5v4h-5zM734 418h6v4h-6zM790 418h19v4h-19zM820 418h9v4h-9zM737 422h5v4h-5zM787 422h5v4h-5zM806 422h6v4h-6zM826 422h22v4h-22zM868 422h2v4h-2zM742 426h9v4h-9zM784 426h6v4h-6zM809 426h6v4h-6zM848 426h6v4h-6zM862 426h3v4h-3zM695 430h14v3h-14zM753 430h6v3h-6zM784 430h3v3h-3zM809 430h6v3h-6zM851 430h11v3h-11zM687 433h5v4h-5zM709 433h3v4h-3zM756 433h3v4h-3zM784 433h3v4h-3zM809 433h6v4h-6zM681 437h6v4h-6zM712 437h2v4h-2zM756 437h3v4h-3zM784 437h3v4h-3zM809 437h3v4h-3zM834 437h25v4h-25zM714 441h3v4h-3zM756 441h3v4h-3zM787 441h3v4h-3zM806 441h3v4h-3zM831 441h6v4h-6zM859 441h6v4h-6zM717 445h3v4h-3zM756 445h3v4h-3zM787 445h5v4h-5zM801 445h5v4h-5zM831 445h3v4h-3zM865 445h5v4h-5zM681 449h19v3h-19zM712 449h2v3h-2zM756 449h3v3h-3zM790 449h14v3h-14zM834 449h3v3h-3zM870 449h6v3h-6zM681 452h6v4h-6zM756 452h3v4h-3zM870 452h6v4h-6zM756 456h3v4h-3zM837 456h3v4h-3zM873 456h3v4h-3zM756 460h3v4h-3zM840 460h3v4h-3zM873 460h3v4h-3zM756 464h3v4h-3zM873 464h3v4h-3zM756 468h3v4h-3zM778 468h6v4h-6zM804 468h2v4h-2zM843 468h2v4h-2zM873 468h3v4h-3zM681 472h3v4h-3zM753 472h6v4h-6zM773 472h5v4h-5zM806 472h3v4h-3zM845 472h3v4h-3zM873 472h3v4h-3zM753 476h6v3h-6zM765 476h8v3h-8zM812 476h3v3h-3zM851 476h3v3h-3zM870 476h6v3h-6zM753 479h6v4h-6zM762 479h5v4h-5zM820 479h3v4h-3zM753 483h6v4h-6zM762 483h3v4h-3zM829 483h2v4h-2zM751 487h11v4h-11zM792 487h3v4h-3zM840 487h3v4h-3zM748 491h5v4h-5zM756 491h6v4h-6zM792 491h6v4h-6zM843 491h2v4h-2zM698 495h8v3h-8zM745 495h14v3h-14zM790 495h2v3h-2zM801 495h3v3h-3zM689 498h3v4h-3zM709 498h3v4h-3zM737 498h8v4h-8zM748 498h8v4h-8zM790 498h2v4h-2zM873 498h3v4h-3zM689 502h3v4h-3zM748 502h5v4h-5zM809 502h3v4h-3zM845 502h3v4h-3zM870 502h6v4h-6zM689 506h3v4h-3zM740 506h5v4h-5zM787 506h3v4h-3zM845 506h3v4h-3zM870 506h3v4h-3zM692 510h3v4h-3zM740 510h2v4h-2zM787 510h3v4h-3zM845 510h3v4h-3zM692 514h3v4h-3zM731 514h3v4h-3zM784 514h3v4h-3zM815 514h3v4h-3zM845 514h3v4h-3zM868 514h2v4h-2zM695 518h3v4h-3zM714 518h9v4h-9zM776 518h11v4h-11zM845 518h3v4h-3zM868 518h2v4h-2zM692 522h3v3h-3zM712 522h2v3h-2zM770 522h3v3h-3zM845 522h3v3h-3zM687 525h2v4h-2zM717 525h3v4h-3zM781 525h6v4h-6zM798 525h3v4h-3zM818 525h2v4h-2zM845 525h3v4h-3zM868 525h2v4h-2zM681 529h3v4h-3zM720 529h3v4h-3zM778 529h6v4h-6zM806 529h6v4h-6zM818 529h2v4h-2zM868 529h2v4h-2zM723 533h3v4h-3zM773 533h3v4h-3zM812 533h3v4h-3zM818 533h5v4h-5zM845 533h3v4h-3zM868 533h2v4h-2zM723 537h3v4h-3zM820 537h6v4h-6zM868 537h5v4h-5zM826 541h5v3h-5zM848 541h3v3h-3zM868 541h8v3h-8zM726 544h2v4h-2zM826 544h3v4h-3zM851 544h3v4h-3zM870 544h6v4h-6zM726 548h2v4h-2zM751 548h5v4h-5zM826 548h3v4h-3zM854 548h2v4h-2zM748 552h3v4h-3zM756 552h3v4h-3zM826 552h3v4h-3zM854 552h2v4h-2z"/><path fill="rgb(58,226,4)" d="M703 326h11v4h-11zM728 326h3v4h-3zM742 326h3v4h-3zM795 326h3v4h-3zM865 326h5v4h-5zM703 330h11v4h-11zM728 330h3v4h-3zM742 330h3v4h-3zM865 330h11v4h-11zM703 334h11v4h-11zM731 334h6v4h-6zM742 334h3v4h-3zM751 334h5v4h-5zM798 334h6v4h-6zM815 334h3v4h-3zM840 334h3v4h-3zM703 338h11v3h-11zM734 338h6v3h-6zM742 338h6v3h-6zM756 338h3v3h-3zM854 338h2v3h-2zM703 341h14v4h-14zM737 341h11v4h-11zM759 341h3v4h-3zM865 341h3v4h-3zM703 345h28v4h-28zM745 345h6v4h-6zM762 345h3v4h-3zM856 345h3v4h-3zM862 345h14v4h-14zM728 349h6v4h-6zM748 349h3v4h-3zM762 349h3v4h-3zM856 349h9v4h-9zM734 353h3v4h-3zM751 353h2v4h-2zM765 353h5v4h-5zM790 353h2v4h-2zM804 353h2v4h-2zM856 353h6v4h-6zM681 357h25v3h-25zM737 357h3v3h-3zM751 357h2v3h-2zM773 357h5v3h-5zM784 357h3v3h-3zM809 357h3v3h-3zM703 360h6v4h-6zM737 360h3v4h-3zM751 360h5v4h-5zM776 360h8v4h-8zM812 360h3v4h-3zM709 364h5v4h-5zM737 364h3v4h-3zM753 364h6v4h-6zM776 364h8v4h-8zM812 364h3v4h-3zM714 368h3v4h-3zM737 368h22v4h-22zM770 368h14v4h-14zM812 368h3v4h-3zM714 372h6v4h-6zM767 372h11v4h-11zM784 372h6v4h-6zM809 372h3v4h-3zM720 376h6v4h-6zM767 376h9v4h-9zM792 376h14v4h-14zM826 376h8v4h-8zM720 380h6v4h-6zM767 380h6v4h-6zM823 380h6v4h-6zM834 380h20v4h-20zM720 384h6v3h-6zM765 384h5v3h-5zM820 384h6v3h-6zM837 384h19v3h-19zM720 387h3v4h-3zM762 387h5v4h-5zM820 387h3v4h-3zM854 387h14v4h-14zM717 391h3v4h-3zM762 391h3v4h-3zM820 391h3v4h-3zM865 391h11v4h-11zM714 395h3v4h-3zM759 395h3v4h-3zM873 395h3v4h-3zM714 399h3v4h-3zM737 399h5v4h-5zM753 399h3v4h-3zM714 403h3v3h-3zM731 403h6v3h-6zM818 403h2v3h-2zM714 406h3v4h-3zM731 406h3v4h-3zM818 406h2v4h-2zM714 410h3v4h-3zM731 410h3v4h-3zM820 410h3v4h-3zM714 414h3v4h-3zM731 414h3v4h-3zM823 414h6v4h-6zM681 418h33v4h-33zM731 418h3v4h-3zM829 418h19v4h-19zM870 418h6v4h-6zM695 422h17v4h-17zM731 422h6v4h-6zM792 422h3v4h-3zM804 422h2v4h-2zM848 422h6v4h-6zM862 422h6v4h-6zM698 426h11v4h-11zM737 426h5v4h-5zM790 426h2v4h-2zM806 426h3v4h-3zM854 426h8v4h-8zM689 430h6v3h-6zM709 430h3v3h-3zM751 430h2v3h-2zM787 430h3v3h-3zM806 430h3v3h-3zM681 433h6v4h-6zM712 433h2v4h-2zM753 433h3v4h-3zM787 433h3v4h-3zM806 433h3v4h-3zM714 437h3v4h-3zM753 437h3v4h-3zM787 437h3v4h-3zM806 437h3v4h-3zM717 441h3v4h-3zM753 441h3v4h-3zM790 441h2v4h-2zM804 441h2v4h-2zM837 441h3v4h-3zM854 441h5v4h-5zM720 445h3v4h-3zM753 445h3v4h-3zM792 445h9v4h-9zM834 445h3v4h-3zM859 445h6v4h-6zM714 449h6v3h-6zM753 449h3v3h-3zM837 449h3v3h-3zM865 449h5v3h-5zM687 452h8v4h-8zM700 452h14v4h-14zM753 452h3v4h-3zM837 452h3v4h-3zM868 452h2v4h-2zM681 456h8v4h-8zM753 456h3v4h-3zM840 456h3v4h-3zM870 456h3v4h-3zM681 460h6v4h-6zM753 460h3v4h-3zM870 460h3v4h-3zM681 464h3v4h-3zM753 464h3v4h-3zM843 464h2v4h-2zM870 464h3v4h-3zM681 468h6v4h-6zM751 468h5v4h-5zM784 468h20v4h-20zM845 468h3v4h-3zM870 468h3v4h-3zM684 472h3v4h-3zM751 472h2v4h-2zM778 472h6v4h-6zM804 472h2v4h-2zM848 472h3v4h-3zM870 472h3v4h-3zM751 476h2v3h-2zM773 476h5v3h-5zM809 476h3v3h-3zM854 476h8v3h-8zM868 476h2v3h-2zM751 479h2v4h-2zM767 479h6v4h-6zM787 479h5v4h-5zM818 479h2v4h-2zM751 483h2v4h-2zM765 483h2v4h-2zM787 483h8v4h-8zM826 483h3v4h-3zM748 487h3v4h-3zM762 487h3v4h-3zM787 487h5v4h-5zM795 487h3v4h-3zM834 487h6v4h-6zM745 491h3v4h-3zM790 491h2v4h-2zM798 491h3v4h-3zM689 495h9v3h-9zM706 495h3v3h-3zM742 495h3v3h-3zM759 495h3v3h-3zM804 495h2v3h-2zM843 495h2v3h-2zM712 498h5v4h-5zM731 498h6v4h-6zM756 498h6v4h-6zM787 498h3v4h-3zM806 498h3v4h-3zM753 502h6v4h-6zM787 502h3v4h-3zM745 506h6v4h-6zM812 506h3v4h-3zM873 506h3v4h-3zM689 510h3v4h-3zM742 510h3v4h-3zM784 510h3v4h-3zM815 510h3v4h-3zM870 510h6v4h-6zM689 514h3v4h-3zM734 514h3v4h-3zM781 514h3v4h-3zM692 518h3v4h-3zM723 518h5v4h-5zM770 518h6v4h-6zM689 522h3v3h-3zM714 522h6v3h-6zM767 522h3v3h-3zM818 522h2v3h-2zM868 522h2v3h-2zM684 525h3v4h-3zM720 525h3v4h-3zM770 525h3v4h-3zM787 525h11v4h-11zM843 525h2v4h-2zM723 529h3v4h-3zM770 529h3v4h-3zM784 529h3v4h-3zM804 529h2v4h-2zM820 529h3v4h-3zM843 529h2v4h-2zM870 529h3v4h-3zM776 533h5v4h-5zM809 533h3v4h-3zM823 533h3v4h-3zM843 533h2v4h-2zM870 533h6v4h-6zM726 537h2v4h-2zM812 537h3v4h-3zM826 537h5v4h-5zM845 537h3v4h-3zM873 537h3v4h-3zM726 541h2v3h-2zM812 541h3v3h-3zM831 541h3v3h-3zM812 544h3v4h-3zM829 544h2v4h-2zM848 544h3v4h-3zM728 548h3v4h-3zM745 548h6v4h-6zM756 548h3v4h-3zM812 548h3v4h-3zM829 548h2v4h-2zM851 548h3v4h-3zM728 552h3v4h-3zM745 552h3v4h-3zM759 552h3v4h-3zM812 552h3v4h-3zM829 552h2v4h-2zM851 552h3v4h-3z"/><path fill="rgb(85,234,1)" d="M700 326h3v4h-3zM731 326h11v4h-11zM798 326h3v4h-3zM700 330h3v4h-3zM731 330h11v4h-11zM798 330h3v4h-3zM823 330h3v4h-3zM700 334h3v4h-3zM737 334h5v4h-5zM804 334h11v4h-11zM843 334h2v4h-2zM865 334h11v4h-11zM700 338h3v3h-3zM740 338h2v3h-2zM748 338h8v3h-8zM862 338h11v3h-11zM700 341h3v4h-3zM748 341h5v4h-5zM756 341h3v4h-3zM856 341h9v4h-9zM868 341h8v4h-8zM700 345h3v4h-3zM751 345h2v4h-2zM756 345h6v4h-6zM859 345h3v4h-3zM698 349h30v4h-30zM751 349h2v4h-2zM756 349h6v4h-6zM692 353h22v4h-22zM731 353h3v4h-3zM753 353h12v4h-12zM792 353h3v4h-3zM801 353h3v4h-3zM706 357h6v3h-6zM753 357h20v3h-20zM787 357h3v3h-3zM709 360h5v4h-5zM756 360h20v4h-20zM784 360h3v4h-3zM809 360h3v4h-3zM714 364h3v4h-3zM734 364h3v4h-3zM759 364h17v4h-17zM784 364h3v4h-3zM809 364h3v4h-3zM717 368h3v4h-3zM734 368h3v4h-3zM759 368h11v4h-11zM784 368h6v4h-6zM809 368h3v4h-3zM720 372h6v4h-6zM731 372h11v4h-11zM759 372h8v4h-8zM790 372h2v4h-2zM806 372h3v4h-3zM726 376h11v4h-11zM762 376h5v4h-5zM726 380h11v4h-11zM762 380h5v4h-5zM829 380h5v4h-5zM726 384h11v3h-11zM762 384h3v3h-3zM826 384h11v3h-11zM723 387h14v4h-14zM759 387h3v4h-3zM823 387h6v4h-6zM834 387h20v4h-20zM720 391h3v4h-3zM731 391h6v4h-6zM759 391h3v4h-3zM823 391h3v4h-3zM843 391h22v4h-22zM717 395h3v4h-3zM734 395h8v4h-8zM756 395h3v4h-3zM820 395h3v4h-3zM848 395h8v4h-8zM865 395h8v4h-8zM717 399h3v4h-3zM731 399h6v4h-6zM742 399h11v4h-11zM820 399h3v4h-3zM851 399h3v4h-3zM870 399h6v4h-6zM717 403h3v3h-3zM820 403h3v3h-3zM873 403h3v3h-3zM717 406h3v4h-3zM728 406h3v4h-3zM820 406h3v4h-3zM728 410h3v4h-3zM823 410h6v4h-6zM843 410h5v4h-5zM728 414h3v4h-3zM829 414h22v4h-22zM714 418h3v4h-3zM728 418h3v4h-3zM848 418h6v4h-6zM868 418h2v4h-2zM689 422h6v4h-6zM712 422h2v4h-2zM728 422h3v4h-3zM795 422h9v4h-9zM854 422h2v4h-2zM859 422h3v4h-3zM692 426h6v4h-6zM709 426h5v4h-5zM731 426h6v4h-6zM792 426h3v4h-3zM804 426h2v4h-2zM681 430h8v3h-8zM712 430h2v3h-2zM748 430h3v3h-3zM790 430h2v3h-2zM714 433h3v4h-3zM790 437h2v4h-2zM804 437h2v4h-2zM720 441h3v4h-3zM792 441h3v4h-3zM798 441h6v4h-6zM840 441h14v4h-14zM723 445h3v4h-3zM837 445h3v4h-3zM854 445h5v4h-5zM720 449h3v3h-3zM859 449h6v3h-6zM695 452h5v4h-5zM714 452h6v4h-6zM751 452h2v4h-2zM840 452h3v4h-3zM865 452h3v4h-3zM689 456h3v4h-3zM751 456h2v4h-2zM868 456h2v4h-2zM687 460h2v4h-2zM751 460h2v4h-2zM843 460h2v4h-2zM868 460h2v4h-2zM684 464h3v4h-3zM748 464h5v4h-5zM845 464h3v4h-3zM868 464h2v4h-2zM687 468h2v4h-2zM748 468h3v4h-3zM848 468h3v4h-3zM868 468h2v4h-2zM687 472h2v4h-2zM748 472h3v4h-3zM784 472h6v4h-6zM851 472h3v4h-3zM868 472h2v4h-2zM748 476h3v3h-3zM778 476h14v3h-14zM806 476h3v3h-3zM862 476h6v3h-6zM748 479h3v4h-3zM773 479h14v4h-14zM792 479h6v4h-6zM815 479h3v4h-3zM748 483h3v4h-3zM767 483h3v4h-3zM784 483h3v4h-3zM795 483h3v4h-3zM823 483h3v4h-3zM745 487h3v4h-3zM765 487h2v4h-2zM798 487h3v4h-3zM831 487h3v4h-3zM689 491h17v4h-17zM742 491h3v4h-3zM762 491h3v4h-3zM787 491h3v4h-3zM801 491h3v4h-3zM840 491h3v4h-3zM687 495h2v3h-2zM709 495h3v3h-3zM737 495h5v3h-5zM762 495h3v3h-3zM787 495h3v3h-3zM687 498h2v4h-2zM717 498h14v4h-14zM762 498h3v4h-3zM809 498h3v4h-3zM843 498h2v4h-2zM687 502h2v4h-2zM759 502h3v4h-3zM812 502h3v4h-3zM843 502h2v4h-2zM687 506h2v4h-2zM751 506h11v4h-11zM784 506h3v4h-3zM843 506h2v4h-2zM745 510h3v4h-3zM843 510h2v4h-2zM737 514h3v4h-3zM767 514h3v4h-3zM776 514h5v4h-5zM843 514h2v4h-2zM870 514h6v4h-6zM689 518h3v4h-3zM728 518h3v4h-3zM767 518h3v4h-3zM818 518h2v4h-2zM843 518h2v4h-2zM687 522h2v3h-2zM720 522h6v3h-6zM843 522h2v3h-2zM681 525h3v4h-3zM723 525h3v4h-3zM767 525h3v4h-3zM820 525h3v4h-3zM870 525h3v4h-3zM726 529h2v4h-2zM767 529h3v4h-3zM787 529h3v4h-3zM801 529h3v4h-3zM823 529h3v4h-3zM840 529h3v4h-3zM873 529h3v4h-3zM726 533h2v4h-2zM770 533h3v4h-3zM781 533h3v4h-3zM806 533h3v4h-3zM826 533h3v4h-3zM840 533h3v4h-3zM773 537h5v4h-5zM809 537h3v4h-3zM831 537h6v4h-6zM840 537h5v4h-5zM728 541h3v3h-3zM809 541h3v3h-3zM834 541h3v3h-3zM845 541h3v3h-3zM728 544h3v4h-3zM809 544h3v4h-3zM831 544h3v4h-3zM759 548h3v4h-3zM809 548h3v4h-3zM848 548h3v4h-3zM731 552h3v4h-3zM742 552h3v4h-3zM762 552h3v4h-3zM809 552h3v4h-3z"/><path fill="rgb(110,239,0)" d="M698 326h2v4h-2zM820 326h9v4h-9zM862 326h3v4h-3zM698 330h2v4h-2zM801 330h3v4h-3zM818 330h5v4h-5zM826 330h5v4h-5zM862 330h3v4h-3zM698 334h2v4h-2zM845 334h3v4h-3zM862 334h3v4h-3zM856 338h6v3h-6zM873 338h3v3h-3zM698 341h2v4h-2zM753 341h3v4h-3zM698 345h2v4h-2zM753 345h3v4h-3zM695 349h3v4h-3zM753 349h3v4h-3zM681 353h11v4h-11zM714 353h17v4h-17zM795 353h6v4h-6zM712 357h2v3h-2zM734 357h3v3h-3zM806 357h3v3h-3zM714 360h3v4h-3zM734 360h3v4h-3zM787 360h3v4h-3zM806 360h3v4h-3zM717 364h3v4h-3zM731 364h3v4h-3zM787 364h3v4h-3zM720 368h6v4h-6zM728 368h6v4h-6zM726 372h5v4h-5zM742 372h17v4h-17zM792 372h3v4h-3zM804 372h2v4h-2zM737 376h3v4h-3zM759 376h3v4h-3zM737 380h3v4h-3zM759 380h3v4h-3zM737 384h3v3h-3zM759 384h3v3h-3zM737 387h3v4h-3zM829 387h5v4h-5zM723 391h8v4h-8zM737 391h5v4h-5zM756 391h3v4h-3zM826 391h17v4h-17zM720 395h3v4h-3zM731 395h3v4h-3zM742 395h3v4h-3zM751 395h5v4h-5zM823 395h6v4h-6zM840 395h8v4h-8zM856 395h9v4h-9zM720 399h3v4h-3zM823 399h6v4h-6zM840 399h11v4h-11zM854 399h16v4h-16zM720 403h3v3h-3zM728 403h3v3h-3zM823 403h6v3h-6zM840 403h16v3h-16zM868 403h5v3h-5zM720 406h3v4h-3zM823 406h6v4h-6zM840 406h14v4h-14zM870 406h6v4h-6zM717 410h11v4h-11zM829 410h14v4h-14zM848 410h6v4h-6zM870 410h6v4h-6zM717 414h11v4h-11zM851 414h3v4h-3zM870 414h6v4h-6zM717 418h11v4h-11zM854 418h2v4h-2zM865 418h3v4h-3zM681 422h8v4h-8zM714 422h3v4h-3zM726 422h2v4h-2zM856 422h3v4h-3zM687 426h5v4h-5zM728 426h3v4h-3zM795 426h9v4h-9zM714 430h3v3h-3zM742 430h6v3h-6zM792 430h3v3h-3zM804 430h2v3h-2zM751 433h2v4h-2zM790 433h2v4h-2zM804 433h2v4h-2zM717 437h6v4h-6zM751 437h2v4h-2zM792 437h3v4h-3zM801 437h3v4h-3zM723 441h3v4h-3zM751 441h2v4h-2zM795 441h3v4h-3zM726 445h2v4h-2zM751 445h2v4h-2zM840 445h3v4h-3zM848 445h6v4h-6zM723 449h3v3h-3zM751 449h2v3h-2zM840 449h3v3h-3zM854 449h5v3h-5zM720 452h3v4h-3zM859 452h6v4h-6zM692 456h6v4h-6zM703 456h20v4h-20zM748 456h3v4h-3zM843 456h2v4h-2zM865 456h3v4h-3zM689 460h3v4h-3zM745 460h6v4h-6zM845 460h3v4h-3zM865 460h3v4h-3zM687 464h2v4h-2zM745 464h3v4h-3zM848 464h3v4h-3zM689 468h3v4h-3zM745 468h3v4h-3zM851 468h3v4h-3zM689 472h3v4h-3zM745 472h3v4h-3zM790 472h14v4h-14zM854 472h2v4h-2zM681 476h8v3h-8zM745 476h3v3h-3zM792 476h14v3h-14zM745 479h3v4h-3zM798 479h3v4h-3zM809 479h6v4h-6zM745 483h3v4h-3zM770 483h14v4h-14zM798 483h3v4h-3zM820 483h3v4h-3zM695 487h11v4h-11zM742 487h3v4h-3zM784 487h3v4h-3zM801 487h3v4h-3zM829 487h2v4h-2zM687 491h2v4h-2zM706 491h3v4h-3zM740 491h2v4h-2zM804 491h2v4h-2zM837 491h3v4h-3zM684 495h3v3h-3zM712 495h2v3h-2zM806 495h3v3h-3zM840 495h3v3h-3zM784 498h3v4h-3zM762 502h3v4h-3zM784 502h3v4h-3zM762 506h3v4h-3zM815 506h3v4h-3zM687 510h2v4h-2zM748 510h5v4h-5zM756 510h14v4h-14zM781 510h3v4h-3zM687 514h2v4h-2zM740 514h2v4h-2zM762 514h5v4h-5zM770 514h6v4h-6zM818 514h2v4h-2zM687 518h2v4h-2zM731 518h3v4h-3zM765 518h2v4h-2zM870 518h6v4h-6zM684 522h3v3h-3zM726 522h2v3h-2zM765 522h2v3h-2zM820 522h3v3h-3zM870 522h3v3h-3zM726 525h2v4h-2zM765 525h2v4h-2zM840 525h3v4h-3zM873 525h3v4h-3zM790 529h11v4h-11zM826 529h3v4h-3zM837 529h3v4h-3zM728 533h3v4h-3zM767 533h3v4h-3zM784 533h3v4h-3zM804 533h2v4h-2zM829 533h11v4h-11zM728 537h3v4h-3zM770 537h3v4h-3zM778 537h3v4h-3zM806 537h3v4h-3zM837 537h3v4h-3zM773 541h3v3h-3zM837 541h8v3h-8zM731 544h3v4h-3zM834 544h3v4h-3zM845 544h3v4h-3zM731 548h6v4h-6zM742 548h3v4h-3zM762 548h3v4h-3zM831 548h3v4h-3zM734 552h3v4h-3zM765 552h2v4h-2zM831 552h3v4h-3zM848 552h3v4h-3z"/><path fill="rgb(135,243,0)" d="M695 326h3v4h-3zM801 326h3v4h-3zM815 326h5v4h-5zM829 326h2v4h-2zM695 330h3v4h-3zM804 330h5v4h-5zM812 330h6v4h-6zM831 330h3v4h-3zM859 334h3v4h-3zM698 338h2v3h-2zM695 345h3v4h-3zM681 349h6v4h-6zM692 349h3v4h-3zM714 357h3v3h-3zM728 357h6v3h-6zM790 357h2v3h-2zM804 357h2v3h-2zM717 360h3v4h-3zM728 360h6v4h-6zM790 360h2v4h-2zM720 364h11v4h-11zM790 364h2v4h-2zM806 364h3v4h-3zM726 368h2v4h-2zM790 368h2v4h-2zM806 368h3v4h-3zM795 372h9v4h-9zM740 376h5v4h-5zM756 376h3v4h-3zM740 380h2v4h-2zM756 380h3v4h-3zM740 384h2v3h-2zM756 384h3v3h-3zM740 387h2v4h-2zM756 387h3v4h-3zM742 391h3v4h-3zM753 391h3v4h-3zM723 395h3v4h-3zM728 395h3v4h-3zM745 395h6v4h-6zM829 395h11v4h-11zM723 399h3v4h-3zM728 399h3v4h-3zM829 399h11v4h-11zM723 403h5v3h-5zM829 403h11v3h-11zM856 403h12v3h-12zM723 406h5v4h-5zM829 406h11v4h-11zM854 406h16v4h-16zM854 410h2v4h-2zM868 410h2v4h-2zM854 414h2v4h-2zM868 414h2v4h-2zM856 418h9v4h-9zM717 422h9v4h-9zM681 426h6v4h-6zM714 426h3v4h-3zM726 426h2v4h-2zM717 430h3v3h-3zM728 430h14v3h-14zM795 430h9v3h-9zM717 433h3v4h-3zM792 433h3v4h-3zM801 433h3v4h-3zM723 437h3v4h-3zM795 437h6v4h-6zM726 441h2v4h-2zM728 445h3v4h-3zM843 445h5v4h-5zM726 449h5v3h-5zM748 449h3v3h-3zM843 449h11v3h-11zM723 452h11v4h-11zM748 452h3v4h-3zM843 452h5v4h-5zM856 452h3v4h-3zM698 456h5v4h-5zM723 456h14v4h-14zM742 456h6v4h-6zM845 456h3v4h-3zM859 456h6v4h-6zM692 460h3v4h-3zM714 460h31v4h-31zM848 460h3v4h-3zM862 460h3v4h-3zM689 464h3v4h-3zM720 464h25v4h-25zM851 464h3v4h-3zM862 464h6v4h-6zM692 468h3v4h-3zM742 468h3v4h-3zM854 468h2v4h-2zM862 468h6v4h-6zM692 472h3v4h-3zM856 472h12v4h-12zM689 476h3v3h-3zM742 479h3v4h-3zM801 479h8v4h-8zM698 483h8v4h-8zM742 483h3v4h-3zM801 483h5v4h-5zM818 483h2v4h-2zM689 487h6v4h-6zM706 487h3v4h-3zM740 487h2v4h-2zM767 487h6v4h-6zM781 487h3v4h-3zM804 487h2v4h-2zM826 487h3v4h-3zM681 491h6v4h-6zM709 491h3v4h-3zM737 491h3v4h-3zM765 491h2v4h-2zM784 491h3v4h-3zM806 491h3v4h-3zM834 491h3v4h-3zM681 495h3v3h-3zM714 495h3v3h-3zM734 495h3v3h-3zM765 495h2v3h-2zM784 495h3v3h-3zM809 495h3v3h-3zM681 498h6v4h-6zM765 498h2v4h-2zM812 498h3v4h-3zM840 498h3v4h-3zM681 502h6v4h-6zM765 502h2v4h-2zM684 506h3v4h-3zM765 506h5v4h-5zM781 506h3v4h-3zM753 510h3v4h-3zM770 510h11v4h-11zM818 510h2v4h-2zM742 514h3v4h-3zM759 514h3v4h-3zM684 518h3v4h-3zM734 518h3v4h-3zM762 518h3v4h-3zM681 522h3v3h-3zM728 522h3v3h-3zM762 522h3v3h-3zM873 522h3v3h-3zM728 525h3v4h-3zM823 525h3v4h-3zM728 529h3v4h-3zM765 529h2v4h-2zM831 529h6v4h-6zM765 533h2v4h-2zM787 533h5v4h-5zM798 533h6v4h-6zM731 537h3v4h-3zM767 537h3v4h-3zM781 537h3v4h-3zM804 537h2v4h-2zM731 541h3v3h-3zM767 541h6v3h-6zM776 541h2v3h-2zM806 541h3v3h-3zM734 544h3v4h-3zM745 544h31v4h-31zM806 544h3v4h-3zM837 544h8v4h-8zM737 548h5v4h-5zM765 548h5v4h-5zM806 548h3v4h-3zM834 548h3v4h-3zM845 548h3v4h-3zM737 552h5v4h-5zM767 552h3v4h-3zM806 552h3v4h-3zM834 552h3v4h-3zM845 552h3v4h-3z"/><path fill="rgb(160,248,0)" d="M681 326h14v4h-14zM804 326h11v4h-11zM831 326h3v4h-3zM859 326h3v4h-3zM681 330h8v4h-8zM692 330h3v4h-3zM809 330h3v4h-3zM834 330h3v4h-3zM859 330h3v4h-3zM681 334h3v4h-3zM695 334h3v4h-3zM848 334h11v4h-11zM695 338h3v3h-3zM695 341h3v4h-3zM681 345h6v4h-6zM692 345h3v4h-3zM687 349h5v4h-5zM717 357h11v3h-11zM720 360h8v4h-8zM745 376h11v4h-11zM742 380h3v4h-3zM753 380h3v4h-3zM742 384h3v3h-3zM753 384h3v3h-3zM742 387h3v4h-3zM753 387h3v4h-3zM745 391h8v4h-8zM726 395h2v4h-2zM726 399h2v4h-2zM856 410h12v4h-12zM856 414h12v4h-12zM717 426h9v4h-9zM720 430h8v3h-8zM720 433h17v4h-17zM748 433h3v4h-3zM795 433h6v4h-6zM726 437h8v4h-8zM748 437h3v4h-3zM728 441h6v4h-6zM748 441h3v4h-3zM731 445h3v4h-3zM748 445h3v4h-3zM731 449h6v3h-6zM734 452h6v4h-6zM742 452h6v4h-6zM848 452h8v4h-8zM737 456h5v4h-5zM848 456h11v4h-11zM695 460h5v4h-5zM709 460h5v4h-5zM851 460h11v4h-11zM692 464h3v4h-3zM717 464h3v4h-3zM854 464h8v4h-8zM717 468h11v4h-11zM740 468h2v4h-2zM856 468h6v4h-6zM742 472h3v4h-3zM692 476h6v3h-6zM742 476h3v3h-3zM692 479h11v4h-11zM740 479h2v4h-2zM692 483h6v4h-6zM706 483h3v4h-3zM740 483h2v4h-2zM806 483h12v4h-12zM687 487h2v4h-2zM709 487h3v4h-3zM737 487h3v4h-3zM773 487h8v4h-8zM806 487h6v4h-6zM820 487h6v4h-6zM712 491h2v4h-2zM767 491h3v4h-3zM831 491h3v4h-3zM717 495h3v3h-3zM728 495h6v3h-6zM837 495h3v3h-3zM781 498h3v4h-3zM767 502h3v4h-3zM781 502h3v4h-3zM815 502h3v4h-3zM840 502h3v4h-3zM681 506h3v4h-3zM770 506h3v4h-3zM776 506h5v4h-5zM818 506h2v4h-2zM840 506h3v4h-3zM681 510h6v4h-6zM840 510h3v4h-3zM681 514h6v4h-6zM745 514h3v4h-3zM753 514h6v4h-6zM840 514h3v4h-3zM681 518h3v4h-3zM759 518h3v4h-3zM820 518h3v4h-3zM840 518h3v4h-3zM731 522h3v3h-3zM840 522h3v3h-3zM731 525h3v4h-3zM762 525h3v4h-3zM731 529h3v4h-3zM762 529h3v4h-3zM829 529h2v4h-2zM731 533h3v4h-3zM792 533h6v4h-6zM734 537h3v4h-3zM765 537h2v4h-2zM784 537h6v4h-6zM798 537h6v4h-6zM734 541h3v3h-3zM765 541h2v3h-2zM778 541h3v3h-3zM804 541h2v3h-2zM737 544h8v4h-8zM776 544h5v4h-5zM804 544h2v4h-2zM770 548h6v4h-6zM804 548h2v4h-2zM837 548h8v4h-8zM770 552h6v4h-6zM804 552h2v4h-2zM837 552h8v4h-8z"/><path fill="rgb(182,250,0)" d="M834 326h3v4h-3zM689 330h3v4h-3zM837 330h3v4h-3zM684 334h5v4h-5zM692 334h3v4h-3zM681 338h6v3h-6zM681 341h6v4h-6zM692 341h3v4h-3zM687 345h5v4h-5zM792 357h3v3h-3zM798 357h6v3h-6zM792 360h3v4h-3zM804 360h2v4h-2zM792 364h3v4h-3zM804 364h2v4h-2zM792 368h3v4h-3zM804 368h2v4h-2zM745 380h8v4h-8zM745 384h8v3h-8zM745 387h8v4h-8zM737 433h3v4h-3zM742 433h6v4h-6zM734 437h3v4h-3zM734 441h3v4h-3zM734 445h3v4h-3zM737 449h3v3h-3zM742 449h6v3h-6zM740 452h2v4h-2zM700 460h9v4h-9zM695 464h3v4h-3zM714 464h3v4h-3zM695 468h3v4h-3zM714 468h3v4h-3zM728 468h12v4h-12zM695 472h3v4h-3zM717 472h9v4h-9zM740 472h2v4h-2zM698 476h2v3h-2zM740 476h2v3h-2zM681 479h11v4h-11zM703 479h6v4h-6zM689 483h3v4h-3zM709 483h3v4h-3zM737 483h3v4h-3zM681 487h6v4h-6zM712 487h2v4h-2zM812 487h8v4h-8zM714 491h3v4h-3zM734 491h3v4h-3zM770 491h3v4h-3zM781 491h3v4h-3zM809 491h6v4h-6zM829 491h2v4h-2zM720 495h8v3h-8zM767 495h3v3h-3zM781 495h3v3h-3zM812 495h3v3h-3zM834 495h3v3h-3zM767 498h3v4h-3zM778 498h3v4h-3zM815 498h3v4h-3zM770 502h3v4h-3zM778 502h3v4h-3zM773 506h3v4h-3zM748 514h5v4h-5zM820 514h3v4h-3zM737 518h3v4h-3zM756 518h3v4h-3zM759 522h3v3h-3zM823 522h3v3h-3zM759 525h3v4h-3zM826 525h3v4h-3zM837 525h3v4h-3zM734 533h3v4h-3zM762 533h3v4h-3zM762 537h3v4h-3zM790 537h8v4h-8zM737 541h3v3h-3zM759 541h6v3h-6zM781 541h6v3h-6zM798 541h6v3h-6zM781 544h6v4h-6zM798 544h6v4h-6zM776 548h5v4h-5zM798 548h6v4h-6zM776 552h5v4h-5zM798 552h6v4h-6z"/><path fill="rgb(202,250,0)" d="M837 326h3v4h-3zM856 326h3v4h-3zM856 330h3v4h-3zM689 334h3v4h-3zM687 338h2v3h-2zM692 338h3v3h-3zM687 341h5v4h-5zM795 357h3v3h-3zM801 360h3v4h-3zM795 368h9v4h-9zM740 433h2v4h-2zM737 437h3v4h-3zM742 437h6v4h-6zM737 441h3v4h-3zM745 441h3v4h-3zM737 445h3v4h-3zM745 445h3v4h-3zM740 449h2v3h-2zM698 464h5v4h-5zM709 464h5v4h-5zM698 468h2v4h-2zM712 468h2v4h-2zM698 472h2v4h-2zM714 472h3v4h-3zM726 472h14v4h-14zM700 476h3v3h-3zM714 476h9v3h-9zM737 476h3v3h-3zM709 479h5v4h-5zM737 479h3v4h-3zM684 483h5v4h-5zM712 483h2v4h-2zM714 487h3v4h-3zM734 487h3v4h-3zM731 491h3v4h-3zM773 491h8v4h-8zM815 491h14v4h-14zM770 495h3v3h-3zM776 495h5v3h-5zM815 495h3v3h-3zM831 495h3v3h-3zM770 498h3v4h-3zM776 498h2v4h-2zM818 498h2v4h-2zM837 498h3v4h-3zM773 502h5v4h-5zM818 502h2v4h-2zM820 510h3v4h-3zM740 518h2v4h-2zM753 518h3v4h-3zM823 518h3v4h-3zM734 522h3v3h-3zM756 522h3v3h-3zM734 525h3v4h-3zM831 525h6v4h-6zM734 529h3v4h-3zM759 529h3v4h-3zM737 533h3v4h-3zM759 533h3v4h-3zM737 537h3v4h-3zM759 537h3v4h-3zM740 541h19v3h-19zM787 541h11v3h-11zM787 544h11v4h-11zM781 548h17v4h-17zM781 552h17v4h-17z"/><path fill="rgb(223,250,0)" d="M840 330h3v4h-3zM689 338h3v3h-3zM795 360h6v4h-6zM795 364h9v4h-9zM740 437h2v4h-2zM740 441h5v4h-5zM740 445h5v4h-5zM703 464h6v4h-6zM700 468h12v4h-12zM700 472h3v4h-3zM709 472h5v4h-5zM703 476h11v3h-11zM723 476h14v3h-14zM714 479h3v4h-3zM734 479h3v4h-3zM681 483h3v4h-3zM714 483h3v4h-3zM734 483h3v4h-3zM731 487h3v4h-3zM717 491h3v4h-3zM728 491h3v4h-3zM773 495h3v3h-3zM818 495h5v3h-5zM826 495h5v3h-5zM773 498h3v4h-3zM834 498h3v4h-3zM837 502h3v4h-3zM820 506h3v4h-3zM837 506h3v4h-3zM837 510h3v4h-3zM837 514h3v4h-3zM742 518h3v4h-3zM751 518h2v4h-2zM837 518h3v4h-3zM737 522h3v3h-3zM826 522h3v3h-3zM837 522h3v3h-3zM737 525h3v4h-3zM756 525h3v4h-3zM829 525h2v4h-2zM737 529h3v4h-3zM756 529h3v4h-3zM756 533h3v4h-3zM740 537h5v4h-5zM756 537h3v4h-3z"/><path fill="rgb(238,246,0)" d="M840 326h3v4h-3zM843 330h2v4h-2zM854 330h2v4h-2zM703 472h6v4h-6zM717 479h6v4h-6zM731 479h3v4h-3zM731 483h3v4h-3zM717 487h3v4h-3zM728 487h3v4h-3zM720 491h8v4h-8zM823 495h3v3h-3zM820 498h3v4h-3zM831 498h3v4h-3zM820 502h3v4h-3zM823 514h3v4h-3zM745 518h6v4h-6zM826 518h3v4h-3zM740 522h2v3h-2zM753 522h3v3h-3zM834 522h3v3h-3zM740 525h2v4h-2zM753 525h3v4h-3zM740 529h2v4h-2zM740 533h2v4h-2zM753 533h3v4h-3zM745 537h11v4h-11z"/><path fill="rgb(244,237,0)" d="M854 326h2v4h-2zM845 330h3v4h-3zM723 479h8v4h-8zM717 483h3v4h-3zM728 483h3v4h-3zM720 487h8v4h-8zM823 498h8v4h-8zM834 502h3v4h-3zM823 506h3v4h-3zM834 506h3v4h-3zM823 510h3v4h-3zM834 510h3v4h-3zM826 514h3v4h-3zM834 514h3v4h-3zM834 518h3v4h-3zM751 522h2v3h-2zM829 522h5v3h-5zM751 525h2v4h-2zM753 529h3v4h-3zM742 533h11v4h-11z"/><path fill="rgb(250,227,0)" d="M843 326h2v4h-2zM848 330h6v4h-6zM720 483h8v4h-8zM823 502h6v4h-6zM831 502h3v4h-3zM826 506h3v4h-3zM831 506h3v4h-3zM826 510h3v4h-3zM831 518h3v4h-3zM742 522h3v3h-3zM748 522h3v3h-3zM742 525h3v4h-3zM748 525h3v4h-3zM742 529h3v4h-3zM748 529h5v4h-5z"/><path fill="rgb(255,218,0)" d="M845 326h3v4h-3zM851 326h3v4h-3zM829 502h2v4h-2zM829 506h2v4h-2zM831 510h3v4h-3zM829 514h5v4h-5zM829 518h2v4h-2zM745 522h3v3h-3zM745 525h3v4h-3zM745 529h3v4h-3z"/><path fill="rgb(255,207,0)" d="M848 326h3v4h-3zM829 510h2v4h-2z"/>
</g>
<clipPath id="cl"><rect x="33" y="52" width="616" height="493"/></clipPath>
<g shape-rendering="crispEdges" clip-path="url(#cl)">
<polyline points="106.0,52.5 105.3,64.5 105.1,66.9 104.8,69.3 104.5,71.7 104.3,74.1 104.0,76.5 103.8,78.9 103.5,81.3 103.3,83.7 103.1,86.1 102.8,88.5 102.6,90.9 102.4,93.3 102.2,95.7 101.9,98.1 101.7,100.5 101.6,102.9 101.5,105.3 101.5,107.7 101.4,110.1 101.3,112.5 101.2,114.9 101.1,117.3 101.1,119.7 101.0,122.1 100.9,124.5 100.8,126.9 100.6,129.3 100.5,131.7 100.3,134.1 100.2,136.5 100.1,138.9 99.9,141.3 99.8,143.7 99.6,146.1 99.5,148.5 99.3,150.9 99.1,153.3 98.9,155.7 98.7,158.1 98.5,160.5 98.4,162.9 98.2,165.3 98.0,167.7 97.8,170.1 97.6,172.5 97.3,174.9 97.0,177.3 96.7,179.7 96.4,182.1 96.1,184.5 95.8,186.9 95.5,189.3 95.2,191.7 94.9,194.1 95.9,196.5 95.4,198.9 94.9,201.3 94.3,203.7 93.8,206.1 93.3,208.5 92.8,210.9 92.3,213.3 91.7,215.7 91.2,218.1 90.7,220.5 90.1,222.9 89.5,225.3 88.9,227.7 88.3,230.1 87.7,232.5 87.1,234.9 86.5,237.3 85.9,239.7 85.3,242.1 84.7,244.5 84.1,246.9 83.4,249.3 82.8,251.7 82.2,254.1 81.5,256.5 79.6,258.9 79.0,261.3 78.4,263.7 77.7,266.1 77.1,268.5 76.5,270.9 75.8,273.3 75.2,275.7 74.5,278.1 73.9,280.5 73.3,282.9 72.6,285.3 72.0,287.7 71.3,290.1 70.7,292.5 70.3,294.9 69.8,297.3 69.4,299.7 68.9,302.1 68.5,304.5 68.1,306.9 67.6,309.3 67.2,311.7 66.7,314.1 67.6,316.5 67.4,318.9 67.2,321.3 66.9,323.7 66.7,326.1 66.5,328.5 66.3,330.9 66.1,333.3 65.8,335.7 65.6,338.1 65.4,340.5 65.2,342.9 65.1,345.3 64.9,347.7 64.8,350.1 64.6,352.5 64.4,354.9 64.3,357.3 64.1,359.7 64.0,362.1 63.8,364.5 63.7,366.9 63.6,369.3 63.5,371.7 63.4,374.1 63.2,376.5 63.1,378.9 63.0,381.3 62.9,383.7 62.8,386.1 62.7,388.5 61.3,390.9 61.2,393.3 61.1,395.7 61.0,398.1 61.0,400.5 60.9,402.9 60.8,405.3 60.7,407.7 60.6,410.1 60.5,412.5 60.4,414.9 60.3,417.3 60.3,419.7 61.5,422.1 61.4,424.5 61.3,426.9 61.2,429.3 61.2,431.7 61.1,434.1 61.0,436.5 61.0,438.9 60.9,441.3 60.9,443.7 60.8,446.1 60.8,448.5 59.5,450.9 59.4,453.3 59.4,455.7 59.3,458.1 59.3,460.5 59.2,462.9 59.2,465.3 59.1,467.7 59.1,470.1 59.0,472.5 60.3,474.9 60.2,477.3 60.2,479.7 60.1,482.1 60.1,484.5 60.1,486.9 60.0,489.3 60.0,491.7 60.0,494.1 59.9,496.5 58.6,498.9 58.6,501.3 58.6,503.7 58.5,506.1 58.5,508.5 58.5,510.9 58.5,513.3 58.5,515.7 58.5,518.1 58.5,520.5 58.5,522.9 58.5,525.3 58.5,527.7 58.5,530.1 58.5,532.5 58.5,545.5" fill="none" stroke="#f00" stroke-width="3" stroke-linejoin="round"/>
<path d="M105.3 64.5v.01M105.1 66.9v.01M104.8 69.3v.01M104.5 71.7v.01M104.3 74.1v.01M104.0 76.5v.01M103.8 78.9v.01M103.5 81.3v.01M103.3 83.7v.01M103.1 86.1v.01M102.8 88.5v.01M102.6 90.9v.01M102.4 93.3v.01M102.2 95.7v.01M101.9 98.1v.01M101.7 100.5v.01M101.6 102.9v.01M101.5 105.3v.01M101.5 107.7v.01M101.4 110.1v.01M101.3 112.5v.01M101.2 114.9v.01M101.1 117.3v.01M101.1 119.7v.01M101.0 122.1v.01M100.9 124.5v.01M100.8 126.9v.01M100.6 129.3v.01M100.5 131.7v.01M100.3 134.1v.01M100.2 136.5v.01M100.1 138.9v.01M99.9 141.3v.01M99.8 143.7v.01M99.6 146.1v.01M99.5 148.5v.01M99.3 150.9v.01M99.1 153.3v.01M98.9 155.7v.01M98.7 158.1v.01M98.5 160.5v.01M98.4 162.9v.01M98.2 165.3v.01M98.0 167.7v.01M97.8 170.1v.01M97.6 172.5v.01M97.3 174.9v.01M97.0 177.3v.01M96.7 179.7v.01M96.4 182.1v.01M96.1 184.5v.01M95.8 186.9v.01M95.5 189.3v.01M95.2 191.7v.01M94.9 194.1v.01M95.9 196.5v.01M95.4 198.9v.01M94.9 201.3v.01M94.3 203.7v.01M93.8 206.1v.01M93.3 208.5v.01M92.8 210.9v.01M92.3 213.3v.01M91.7 215.7v.01M91.2 218.1v.01M90.7 220.5v.01M90.1 222.9v.01M89.5 225.3v.01M88.9 227.7v.01M88.3 230.1v.01M87.7 232.5v.01M87.1 234.9v.01M86.5 237.3v.01M85.9 239.7v.01M85.3 242.1v.01M84.7 244.5v.01M84.1 246.9v.01M83.4 249.3v.01M82.8 251.7v.01M82.2 254.1v.01M81.5 256.5v.01M79.6 258.9v.01M79.0 261.3v.01M78.4 263.7v.01M77.7 266.1v.01M77.1 268.5v.01M76.5 270.9v.01M75.8 273.3v.01M75.2 275.7v.01M74.5 278.1v.01M73.9 280.5v.01M73.3 282.9v.01M72.6 285.3v.01M72.0 287.7v.01M71.3 290.1v.01M70.7 292.5v.01M70.3 294.9v.01M69.8 297.3v.01M69.4 299.7v.01M68.9 302.1v.01M68.5 304.5v.01M68.1 306.9v.01M67.6 309.3v.01M67.2 311.7v.01M66.7 314.1v.01M67.6 316.5v.01M67.4 318.9v.01M67.2 321.3v.01M66.9 323.7v.01M66.7 326.1v.01M66.5 328.5v.01M66.3 330.9v.01M66.1 333.3v.01M65.8 335.7v.01M65.6 338.1v.01M65.4 340.5v.01M65.2 342.9v.01M65.1 345.3v.01M64.9 347.7v.01M64.8 350.1v.01M64.6 352.5v.01M64.4 354.9v.01M64.3 357.3v.01M64.1 359.7v.01M64.0 362.1v.01M63.8 364.5v.01M63.7 366.9v.01M63.6 369.3v.01M63.5 371.7v.01M63.4 374.1v.01M63.2 376.5v.01M63.1 378.9v.01M63.0 381.3v.01M62.9 383.7v.01M62.8 386.1v.01M62.7 388.5v.01M61.3 390.9v.01M61.2 393.3v.01M61.1 395.7v.01M61.0 398.1v.01M61.0 400.5v.01M60.9 402.9v.01M60.8 405.3v.01M60.7 407.7v.01M60.6 410.1v.01M60.5 412.5v.01M60.4 414.9v.01M60.3 417.3v.01M60.3 419.7v.01M61.5 422.1v.01M61.4 424.5v.01M61.3 426.9v.01M61.2 429.3v.01M61.2 431.7v.01M61.1 434.1v.01M61.0 436.5v.01M61.0 438.9v.01M60.9 441.3v.01M60.9 443.7v.01M60.8 446.1v.01M60.8 448.5v.01M59.5 450.9v.01M59.4 453.3v.01M59.4 455.7v.01M59.3 458.1v.01M59.3 460.5v.01M59.2 462.9v.01M59.2 465.3v.01M59.1 467.7v.01M59.1 470.1v.01M59.0 472.5v.01M60.3 474.9v.01M60.2 477.3v.01M60.2 479.7v.01M60.1 482.1v.01M60.1 484.5v.01M60.1 486.9v.01M60.0 489.3v.01M60.0 491.7v.01M60.0 494.1v.01M59.9 496.5v.01M58.6 498.9v.01M58.6 501.3v.01M58.6 503.7v.01M58.5 506.1v.01M58.5 508.5v.01M58.5 510.9v.01M58.5 513.3v.01M58.5 515.7v.01M58.5 518.1v.01M58.5 520.5v.01M58.5 522.9v.01M58.5 525.3v.01M58.5 527.7v.01M58.5 530.1v.01M58.5 532.5v.01" fill="none" stroke="#f00" stroke-width="3" stroke-linecap="round"/>
<polyline points="105.0,53.7 106.2,76.5 105.6,100.5 105.5,124.5 104.5,136.5 102.9,148.5 100.3,172.5 96.6,196.5 88.9,220.5 85.0,232.5 79.3,244.5 76.0,256.5 73.0,268.5 68.4,292.5 64.8,316.5 63.2,340.5 62.0,364.5 61.2,388.5 60.3,412.5 59.5,436.5 59.0,460.5 58.8,473.7 57.6,474.9 57.6,482.1 58.6,483.3 58.4,508.5 58.4,527.7" fill="none" stroke="#000" stroke-width="3" stroke-linejoin="round"/>
<path d="M106.2 76.5v.01M105.6 100.5v.01M105.5 124.5v.01M104.5 136.5v.01M102.9 148.5v.01M100.3 172.5v.01M96.6 196.5v.01M88.9 220.5v.01M85.0 232.5v.01M79.3 244.5v.01M76.0 256.5v.01M73.0 268.5v.01M68.4 292.5v.01M64.8 316.5v.01M63.2 340.5v.01M62.0 364.5v.01M61.2 388.5v.01M60.3 412.5v.01M59.5 436.5v.01M59.0 460.5v.01M58.8 473.7v.01M57.6 474.9v.01M57.6 482.1v.01M58.6 483.3v.01M58.4 508.5v.01" fill="none" stroke="#000" stroke-width="3" stroke-linecap="round"/>
<polyline points="106.7,52.5 104.0,76.5 101.7,100.5 100.9,124.5 99.5,148.5 97.6,172.5 94.6,196.5 89.4,220.5 83.4,244.5 77.1,268.5 70.7,292.5 66.3,316.5 64.1,340.5 62.5,364.5 61.4,388.5 60.5,412.5 59.7,436.5 59.3,460.5 58.8,484.5 58.5,508.5 58.5,532.5" fill="none" stroke="#00f" stroke-width="3" stroke-linejoin="round"/>
<path d="M104.0 76.5v.01M101.7 100.5v.01M100.9 124.5v.01M99.5 148.5v.01M97.6 172.5v.01M94.6 196.5v.01M89.4 220.5v.01M83.4 244.5v.01M77.1 268.5v.01M70.7 292.5v.01M66.3 316.5v.01M64.1 340.5v.01M62.5 364.5v.01M61.4 388.5v.01M60.5 412.5v.01M59.7 436.5v.01M59.3 460.5v.01M58.8 484.5v.01M58.5 508.5v.01" fill="none" stroke="#00f" stroke-width="3" stroke-linecap="round"/>
<polyline points="317.5,52.5 318.2,64.5 320.5,76.5 322.0,88.5 321.6,100.5 319.8,124.5 318.2,148.5 316.6,160.5 314.4,172.5 311.5,184.5 308.6,196.5 301.8,220.5 294.7,244.5 289.1,268.5 285.3,292.5 286.2,316.5 288.6,340.5 292.0,364.5 295.8,388.5 299.2,412.5 303.3,436.5 307.1,460.5 310.8,484.5 313.3,508.5 315.3,532.5 316.5,545.5" fill="none" stroke="#f00" stroke-width="3" stroke-linejoin="round"/>
<path d="M318.2 64.5v.01M320.5 76.5v.01M322.0 88.5v.01M321.6 100.5v.01M319.8 124.5v.01M318.2 148.5v.01M316.6 160.5v.01M314.4 172.5v.01M311.5 184.5v.01M308.6 196.5v.01M301.8 220.5v.01M294.7 244.5v.01M289.1 268.5v.01M285.3 292.5v.01M286.2 316.5v.01M288.6 340.5v.01M292.0 364.5v.01M295.8 388.5v.01M299.2 412.5v.01M303.3 436.5v.01M307.1 460.5v.01M310.8 484.5v.01M313.3 508.5v.01M315.3 532.5v.01" fill="none" stroke="#f00" stroke-width="3" stroke-linecap="round"/>
<polyline points="316.5,52.5 317.2,59.7 320.5,62.1 326.0,64.5 330.6,69.3 330.0,76.5 329.5,88.5 327.3,98.1 330.0,102.9 331.7,107.7 330.0,114.9 329.0,124.5 328.4,134.1 325.0,141.3 321.7,148.5 319.4,160.5 317.5,172.5 315.0,179.7 308.9,196.5 300.0,220.5 290.3,244.5 284.7,268.5 283.3,280.5 283.4,292.5 285.1,316.5 288.0,340.5 292.0,364.5 297.0,388.5 301.2,412.5 306.3,436.5 310.0,460.5 313.0,484.5 315.0,508.5 315.5,513.3" fill="none" stroke="#000" stroke-width="3" stroke-linejoin="round"/>
<path d="M317.2 59.7v.01M320.5 62.1v.01M326.0 64.5v.01M330.6 69.3v.01M330.0 76.5v.01M329.5 88.5v.01M327.3 98.1v.01M330.0 102.9v.01M331.7 107.7v.01M330.0 114.9v.01M329.0 124.5v.01M328.4 134.1v.01M325.0 141.3v.01M321.7 148.5v.01M319.4 160.5v.01M317.5 172.5v.01M315.0 179.7v.01M308.9 196.5v.01M300.0 220.5v.01M290.3 244.5v.01M284.7 268.5v.01M283.3 280.5v.01M283.4 292.5v.01M285.1 316.5v.01M288.0 340.5v.01M292.0 364.5v.01M297.0 388.5v.01M301.2 412.5v.01M306.3 436.5v.01M310.0 460.5v.01M313.0 484.5v.01M315.0 508.5v.01" fill="none" stroke="#000" stroke-width="3" stroke-linecap="round"/>
<polyline points="318.7,52.5 319.4,64.5 321.7,76.5 323.2,88.5 322.8,100.5 321.0,124.5 319.4,148.5 317.8,160.5 315.6,172.5 312.7,184.5 309.8,196.5 303.0,220.5 295.9,244.5 290.3,268.5 286.5,292.5 287.4,316.5 289.8,340.5 293.2,364.5 297.0,388.5 300.4,412.5 304.5,436.5 308.3,460.5 312.0,484.5 314.5,508.5 317.0,532.5" fill="none" stroke="#00f" stroke-width="3" stroke-linejoin="round"/>
<path d="M319.4 64.5v.01M321.7 76.5v.01M323.2 88.5v.01M322.8 100.5v.01M321.0 124.5v.01M319.4 148.5v.01M317.8 160.5v.01M315.6 172.5v.01M312.7 184.5v.01M309.8 196.5v.01M303.0 220.5v.01M295.9 244.5v.01M290.3 268.5v.01M286.5 292.5v.01M287.4 316.5v.01M289.8 340.5v.01M293.2 364.5v.01M297.0 388.5v.01M300.4 412.5v.01M304.5 436.5v.01M308.3 460.5v.01M312.0 484.5v.01M314.5 508.5v.01" fill="none" stroke="#00f" stroke-width="3" stroke-linecap="round"/>
<polyline points="542.6,52.5 543.7,59.7 553.8,66.9 557.2,71.7 561.0,76.5 566.3,86.1 567.6,88.5 567.6,94.5 563.9,98.1 571.3,105.3 572.2,112.5 571.3,124.5 570.0,136.5 563.9,143.7 559.4,153.3 557.8,160.5 560.0,167.7 561.7,172.5 553.8,182.1 552.0,186.9 551.6,196.5 543.7,206.1 540.4,218.1 532.5,230.1 527.4,242.1 527.6,268.5 531.4,285.3 532.5,292.5 534.0,302.1 539.2,314.1 537.7,321.3 541.5,335.7 543.7,347.7 545.2,364.5 546.0,388.5 546.2,412.5 546.2,508.5 546.7,527.7" fill="none" stroke="#000" stroke-width="3" stroke-linejoin="round"/>
<path d="M543.7 59.7v.01M553.8 66.9v.01M557.2 71.7v.01M561.0 76.5v.01M566.3 86.1v.01M567.6 88.5v.01M567.6 94.5v.01M563.9 98.1v.01M571.3 105.3v.01M572.2 112.5v.01M571.3 124.5v.01M570.0 136.5v.01M563.9 143.7v.01M559.4 153.3v.01M557.8 160.5v.01M560.0 167.7v.01M561.7 172.5v.01M553.8 182.1v.01M552.0 186.9v.01M551.6 196.5v.01M543.7 206.1v.01M540.4 218.1v.01M532.5 230.1v.01M527.4 242.1v.01M527.6 268.5v.01M531.4 285.3v.01M532.5 292.5v.01M534.0 302.1v.01M539.2 314.1v.01M537.7 321.3v.01M541.5 335.7v.01M543.7 347.7v.01M545.2 364.5v.01M546.0 388.5v.01M546.2 412.5v.01M546.2 508.5v.01" fill="none" stroke="#000" stroke-width="3" stroke-linecap="round"/>
<polyline points="552.0,52.5 553.4,64.5 550.5,71.7 547.4,77.7 546.8,100.5 546.3,124.5 545.2,148.5 545.6,172.5 543.3,196.5 542.6,208.5 543.7,220.5 545.5,244.5 546.6,268.5 547.0,292.5 545.5,316.5 546.0,340.5 546.5,364.5 546.8,388.5 547.2,412.5 547.2,508.5 547.7,532.5" fill="none" stroke="#00f" stroke-width="3" stroke-linejoin="round"/>
<path d="M553.4 64.5v.01M550.5 71.7v.01M547.4 77.7v.01M546.8 100.5v.01M546.3 124.5v.01M545.2 148.5v.01M545.6 172.5v.01M543.3 196.5v.01M542.6 208.5v.01M543.7 220.5v.01M545.5 244.5v.01M546.6 268.5v.01M547.0 292.5v.01M545.5 316.5v.01M546.0 340.5v.01M546.5 364.5v.01M546.8 388.5v.01M547.2 412.5v.01M547.2 508.5v.01" fill="none" stroke="#00f" stroke-width="3" stroke-linecap="round"/>
<polyline points="543.7,52.5 544.8,59.7 552.7,63.3 560.5,66.9 561.7,76.5 558.7,86.1 557.8,95.7 554.9,99.3 560.5,105.3 562.8,110.1 561.7,124.5 560.0,136.5 553.8,146.1 552.0,155.7 553.2,172.5 548.9,182.1 547.0,196.5 544.4,220.5 542.2,244.5 541.5,261.3 543.7,280.5 544.8,292.5 546.6,316.5 547.5,340.5 548.2,364.5 548.6,384.9 550.7,387.3 550.7,400.5 549.5,401.9 549.5,420.7 550.7,422.1 550.7,513.3" fill="none" stroke="#f0f" stroke-width="3" stroke-linejoin="round"/>
<path d="M544.8 59.7v.01M552.7 63.3v.01M560.5 66.9v.01M561.7 76.5v.01M558.7 86.1v.01M557.8 95.7v.01M554.9 99.3v.01M560.5 105.3v.01M562.8 110.1v.01M561.7 124.5v.01M560.0 136.5v.01M553.8 146.1v.01M552.0 155.7v.01M553.2 172.5v.01M548.9 182.1v.01M547.0 196.5v.01M544.4 220.5v.01M542.2 244.5v.01M541.5 261.3v.01M543.7 280.5v.01M544.8 292.5v.01M546.6 316.5v.01M547.5 340.5v.01M548.2 364.5v.01M548.6 384.9v.01M550.7 387.3v.01M550.7 400.5v.01M549.5 401.9v.01M549.5 420.7v.01M550.7 422.1v.01" fill="none" stroke="#f0f" stroke-width="3" stroke-linecap="round"/>
<polyline points="547.0,52.5 548.0,76.5 548.2,124.5 549.0,172.5 549.3,220.5 549.6,268.5 548.6,292.5 549.5,316.5 549.3,388.5 549.5,508.5 550.5,520.5 550.7,532.5" fill="none" stroke="#0ff" stroke-width="3" stroke-linejoin="round"/>
<path d="M548.0 76.5v.01M548.2 124.5v.01M549.0 172.5v.01M549.3 220.5v.01M549.6 268.5v.01M548.6 292.5v.01M549.5 316.5v.01M549.3 388.5v.01M549.5 508.5v.01M550.5 520.5v.01" fill="none" stroke="#0ff" stroke-width="3" stroke-linecap="round"/>
</g>
<g shape-rendering="crispEdges" fill="#000">
<rect x="32" y="51" width="201" height="1" fill="#000"/>
<rect x="32" y="545" width="201" height="1" fill="#000"/>
<rect x="32" y="51" width="1" height="495" fill="#000"/>
<rect x="232" y="51" width="1" height="495" fill="#000"/>
<rect x="33" y="52" width="3" height="1" fill="#000"/>
<rect x="227" y="52" width="5" height="1" fill="#000"/>
<rect x="33" y="76" width="3" height="1" fill="#000"/>
<rect x="227" y="76" width="5" height="1" fill="#000"/>
<rect x="33" y="100" width="3" height="1" fill="#000"/>
<rect x="227" y="100" width="5" height="1" fill="#000"/>
<rect x="33" y="124" width="3" height="1" fill="#000"/>
<rect x="227" y="124" width="5" height="1" fill="#000"/>
<rect x="33" y="148" width="3" height="1" fill="#000"/>
<rect x="227" y="148" width="5" height="1" fill="#000"/>
<rect x="33" y="172" width="3" height="1" fill="#000"/>
<rect x="227" y="172" width="5" height="1" fill="#000"/>
<rect x="33" y="196" width="3" height="1" fill="#000"/>
<rect x="227" y="196" width="5" height="1" fill="#000"/>
<rect x="33" y="220" width="3" height="1" fill="#000"/>
<rect x="227" y="220" width="5" height="1" fill="#000"/>
<rect x="33" y="244" width="3" height="1" fill="#000"/>
<rect x="227" y="244" width="5" height="1" fill="#000"/>
<rect x="33" y="268" width="3" height="1" fill="#000"/>
<rect x="227" y="268" width="5" height="1" fill="#000"/>
<rect x="33" y="292" width="3" height="1" fill="#000"/>
<rect x="227" y="292" width="5" height="1" fill="#000"/>
<rect x="33" y="316" width="3" height="1" fill="#000"/>
<rect x="227" y="316" width="5" height="1" fill="#000"/>
<rect x="33" y="340" width="3" height="1" fill="#000"/>
<rect x="227" y="340" width="5" height="1" fill="#000"/>
<rect x="33" y="364" width="3" height="1" fill="#000"/>
<rect x="227" y="364" width="5" height="1" fill="#000"/>
<rect x="33" y="388" width="3" height="1" fill="#000"/>
<rect x="227" y="388" width="5" height="1" fill="#000"/>
<rect x="33" y="412" width="3" height="1" fill="#000"/>
<rect x="227" y="412" width="5" height="1" fill="#000"/>
<rect x="33" y="436" width="3" height="1" fill="#000"/>
<rect x="227" y="436" width="5" height="1" fill="#000"/>
<rect x="33" y="460" width="3" height="1" fill="#000"/>
<rect x="227" y="460" width="5" height="1" fill="#000"/>
<rect x="33" y="484" width="3" height="1" fill="#000"/>
<rect x="227" y="484" width="5" height="1" fill="#000"/>
<rect x="33" y="508" width="3" height="1" fill="#000"/>
<rect x="227" y="508" width="5" height="1" fill="#000"/>
<rect x="33" y="532" width="3" height="1" fill="#000"/>
<rect x="227" y="532" width="5" height="1" fill="#000"/>
<rect x="43" y="52" width="1" height="4" fill="#000"/>
<rect x="43" y="541" width="1" height="4" fill="#000"/>
<rect x="72" y="52" width="1" height="4" fill="#000"/>
<rect x="72" y="541" width="1" height="4" fill="#000"/>
<rect x="102" y="52" width="1" height="4" fill="#000"/>
<rect x="102" y="541" width="1" height="4" fill="#000"/>
<rect x="131" y="52" width="1" height="4" fill="#000"/>
<rect x="131" y="541" width="1" height="4" fill="#000"/>
<rect x="160" y="52" width="1" height="4" fill="#000"/>
<rect x="160" y="541" width="1" height="4" fill="#000"/>
<rect x="190" y="52" width="1" height="4" fill="#000"/>
<rect x="190" y="541" width="1" height="4" fill="#000"/>
<rect x="219" y="52" width="1" height="4" fill="#000"/>
<rect x="219" y="541" width="1" height="4" fill="#000"/>
<rect x="239" y="51" width="201" height="1" fill="#000"/>
<rect x="239" y="545" width="201" height="1" fill="#000"/>
<rect x="439" y="51" width="1" height="495" fill="#000"/>
<rect x="257" y="52" width="1" height="4" fill="#000"/>
<rect x="257" y="541" width="1" height="4" fill="#000"/>
<rect x="300" y="52" width="1" height="4" fill="#000"/>
<rect x="300" y="541" width="1" height="4" fill="#000"/>
<rect x="344" y="52" width="1" height="4" fill="#000"/>
<rect x="344" y="541" width="1" height="4" fill="#000"/>
<rect x="387" y="52" width="1" height="4" fill="#000"/>
<rect x="387" y="541" width="1" height="4" fill="#000"/>
<rect x="431" y="52" width="1" height="4" fill="#000"/>
<rect x="431" y="541" width="1" height="4" fill="#000"/>
<rect x="448" y="51" width="202" height="1" fill="#000"/>
<rect x="448" y="545" width="202" height="1" fill="#000"/>
<rect x="448" y="51" width="1" height="495" fill="#000"/>
<rect x="649" y="51" width="1" height="495" fill="#000"/>
<rect x="481" y="52" width="1" height="4" fill="#000"/>
<rect x="481" y="541" width="1" height="4" fill="#000"/>
<rect x="514" y="52" width="1" height="4" fill="#000"/>
<rect x="514" y="541" width="1" height="4" fill="#000"/>
<rect x="548" y="52" width="1" height="4" fill="#000"/>
<rect x="548" y="541" width="1" height="4" fill="#000"/>
<rect x="581" y="52" width="1" height="4" fill="#000"/>
<rect x="581" y="541" width="1" height="4" fill="#000"/>
<rect x="614" y="52" width="1" height="4" fill="#000"/>
<rect x="614" y="541" width="1" height="4" fill="#000"/>
<rect x="679" y="34" width="199" height="1" fill="#000"/>
<rect x="679" y="267" width="199" height="1" fill="#000"/>
<rect x="679" y="34" width="1" height="234" fill="#000"/>
<rect x="877" y="34" width="1" height="234" fill="#000"/>
<rect x="727" y="268" width="1" height="2" fill="#000"/>
<rect x="727" y="33" width="1" height="1" fill="#000"/>
<rect x="798" y="268" width="1" height="2" fill="#000"/>
<rect x="798" y="33" width="1" height="1" fill="#000"/>
<rect x="869" y="268" width="1" height="2" fill="#000"/>
<rect x="869" y="33" width="1" height="1" fill="#000"/>
<rect x="678" y="54" width="1" height="1" fill="#000"/>
<rect x="878" y="54" width="1" height="1" fill="#000"/>
<rect x="678" y="93" width="1" height="1" fill="#000"/>
<rect x="878" y="93" width="1" height="1" fill="#000"/>
<rect x="678" y="132" width="1" height="1" fill="#000"/>
<rect x="878" y="132" width="1" height="1" fill="#000"/>
<rect x="678" y="170" width="1" height="1" fill="#000"/>
<rect x="878" y="170" width="1" height="1" fill="#000"/>
<rect x="678" y="209" width="1" height="1" fill="#000"/>
<rect x="878" y="209" width="1" height="1" fill="#000"/>
<rect x="678" y="248" width="1" height="1" fill="#000"/>
<rect x="878" y="248" width="1" height="1" fill="#000"/>
<rect x="679" y="325" width="199" height="1" fill="#000"/>
<rect x="679" y="557" width="199" height="1" fill="#000"/>
<rect x="679" y="325" width="1" height="233" fill="#000"/>
<rect x="877" y="325" width="1" height="233" fill="#000"/>
<rect x="727" y="558" width="1" height="2" fill="#000"/>
<rect x="727" y="324" width="1" height="1" fill="#000"/>
<rect x="798" y="558" width="1" height="2" fill="#000"/>
<rect x="798" y="324" width="1" height="1" fill="#000"/>
<rect x="869" y="558" width="1" height="2" fill="#000"/>
<rect x="869" y="324" width="1" height="1" fill="#000"/>
<rect x="678" y="345" width="1" height="1" fill="#000"/>
<rect x="878" y="345" width="1" height="1" fill="#000"/>
<rect x="678" y="383" width="1" height="1" fill="#000"/>
<rect x="878" y="383" width="1" height="1" fill="#000"/>
<rect x="678" y="422" width="1" height="1" fill="#000"/>
<rect x="878" y="422" width="1" height="1" fill="#000"/>
<rect x="678" y="461" width="1" height="1" fill="#000"/>
<rect x="878" y="461" width="1" height="1" fill="#000"/>
<rect x="678" y="499" width="1" height="1" fill="#000"/>
<rect x="878" y="499" width="1" height="1" fill="#000"/>
<rect x="678" y="538" width="1" height="1" fill="#000"/>
<rect x="878" y="538" width="1" height="1" fill="#000"/>
</g>
<polygon shape-rendering="crispEdges" points="776,146.5 781,146.5 783.5,149 783.5,153 781,155.5 776,155.5 773.5,153 773.5,149" fill="none" stroke="#000" stroke-width="1"/>
<polygon shape-rendering="crispEdges" points="776,436.5 781,436.5 783.5,439 783.5,443 781,445.5 776,445.5 773.5,443 773.5,439" fill="none" stroke="#000" stroke-width="1"/>
<g style="mix-blend-mode:multiply">
<text x="61.2" y="27.3" font-size="14" textLength="30.6" lengthAdjust="spacing">Argo</text>
<text x="96.7" y="27.3" font-size="14" textLength="41.7" lengthAdjust="spacing">profile:</text>
<text x="142.3" y="27.3" font-size="14" textLength="29.2" lengthAdjust="spacing">aoml</text>
<text x="178.4" y="27.3" font-size="14" textLength="77.2" lengthAdjust="spacing">1901380_68</text>
<text x="260.0" y="27.3" font-size="14" textLength="81.8" lengthAdjust="spacing">27-Nov-2011</text>
<text x="348.4" y="27.3" font-size="14" textLength="51.8" lengthAdjust="spacing">42.977S</text>
<text x="406.0" y="27.3" font-size="14" textLength="56.9" lengthAdjust="spacing">103.595E</text>
<text x="468.0" y="27.3" font-size="14" textLength="27.8" lengthAdjust="spacing">(DM</text>
<text x="500.0" y="27.3" font-size="14" textLength="33.2" lengthAdjust="spacing">data)</text>
<text x="49.4" y="43" font-size="14" textLength="75.0" lengthAdjust="spacing">Climatology:</text>
<text x="129.0" y="43" font-size="14" textLength="72.6" lengthAdjust="spacing">CARS2009.</text>
<text x="207.6" y="43" font-size="14" textLength="108.9" lengthAdjust="spacing">Satellite-adjusted</text>
<text x="321.3" y="43" font-size="14" textLength="73.6" lengthAdjust="spacing">climatology:</text>
<text x="399.3" y="43" font-size="14" textLength="130.7" lengthAdjust="spacing">synTS_20111127.nc</text>
<text x="535.3" y="43" font-size="14" textLength="39.9" lengthAdjust="spacing">(0.92d</text>
<text x="579.0" y="43" font-size="14" textLength="44.8" lengthAdjust="spacing">earlier)</text>
<text x="27.6" y="56.8" font-size="12" text-anchor="end">0</text>
<text x="27.6" y="80.8" font-size="12" text-anchor="end">100</text>
<text x="27.6" y="104.8" font-size="12" text-anchor="end">200</text>
<text x="27.6" y="128.8" font-size="12" text-anchor="end">300</text>
<text x="27.6" y="152.8" font-size="12" text-anchor="end">400</text>
<text x="27.6" y="176.8" font-size="12" text-anchor="end">500</text>
<text x="27.6" y="200.8" font-size="12" text-anchor="end">600</text>
<text x="27.6" y="224.8" font-size="12" text-anchor="end">700</text>
<text x="27.6" y="248.8" font-size="12" text-anchor="end">800</text>
<text x="27.6" y="272.8" font-size="12" text-anchor="end">900</text>
<text x="27.6" y="296.8" font-size="12" text-anchor="end">1000</text>
<text x="27.6" y="320.8" font-size="12" text-anchor="end">1100</text>
<text x="27.6" y="344.8" font-size="12" text-anchor="end">1200</text>
<text x="27.6" y="368.8" font-size="12" text-anchor="end">1300</text>
<text x="27.6" y="392.8" font-size="12" text-anchor="end">1400</text>
<text x="27.6" y="416.8" font-size="12" text-anchor="end">1500</text>
<text x="27.6" y="440.8" font-size="12" text-anchor="end">1600</text>
<text x="27.6" y="464.8" font-size="12" text-anchor="end">1700</text>
<text x="27.6" y="488.8" font-size="12" text-anchor="end">1800</text>
<text x="27.6" y="512.8" font-size="12" text-anchor="end">1900</text>
<text x="27.6" y="536.8" font-size="12" text-anchor="end">2000</text>
<text x="43.5" y="560.3" font-size="12" text-anchor="middle">0</text>
<text x="72.9" y="560.3" font-size="12" text-anchor="middle">5</text>
<text x="102.3" y="560.3" font-size="12" text-anchor="middle">10</text>
<text x="131.7" y="560.3" font-size="12" text-anchor="middle">15</text>
<text x="161.1" y="560.3" font-size="12" text-anchor="middle">20</text>
<text x="190.5" y="560.3" font-size="12" text-anchor="middle">25</text>
<text x="219.9" y="560.3" font-size="12" text-anchor="middle">30</text>
<text x="257.5" y="560.3" font-size="12" text-anchor="middle">34</text>
<text x="301.0" y="560.3" font-size="12" text-anchor="middle">34.5</text>
<text x="344.5" y="560.3" font-size="12" text-anchor="middle">35</text>
<text x="388.0" y="560.3" font-size="12" text-anchor="middle">35.5</text>
<text x="431.5" y="560.3" font-size="12" text-anchor="middle">36</text>
<text x="479.2" y="560.3" font-size="12" text-anchor="middle">-2</text>
<text x="512.45" y="560.3" font-size="12" text-anchor="middle">-1</text>
<text x="547.7" y="560.3" font-size="12" text-anchor="middle">0</text>
<text x="580.95" y="560.3" font-size="12" text-anchor="middle">1</text>
<text x="614.2" y="560.3" font-size="12" text-anchor="middle">2</text>
<text x="479.2" y="539.6" font-size="12" text-anchor="middle">-0.5</text>
<text x="512.45" y="539.6" font-size="12" text-anchor="middle">-0.25</text>
<text x="547.7" y="539.6" font-size="12" text-anchor="middle">0</text>
<text x="580.95" y="539.6" font-size="12" text-anchor="middle">0.25</text>
<text x="614.2" y="539.6" font-size="12" text-anchor="middle">0.5</text>
<text x="73.8" y="575.6" font-size="12" textLength="111" lengthAdjust="spacing">temperature (deg C)</text>
<text x="318.1" y="575.6" font-size="12" textLength="37.3" lengthAdjust="spacing">salinity</text>
<text x="467.5" y="575.3" font-size="12" textLength="159" lengthAdjust="spacing">T difference from climatology</text>
<text x="467.5" y="524.7" font-size="12" textLength="159" lengthAdjust="spacing">S difference from climatology</text>
<g shape-rendering="crispEdges">
<rect x="83" y="394" width="3" height="9" fill="#f00"/>
<rect x="83" y="408" width="3" height="9" fill="#00f"/>
<rect x="83" y="423" width="3" height="9" fill="#000"/>
<rect x="337" y="394" width="3" height="9" fill="#f00"/>
<rect x="337" y="408" width="3" height="9" fill="#00f"/>
<rect x="337" y="423" width="3" height="9" fill="#000"/>
<rect x="473" y="408" width="3" height="9" fill="#00f"/>
<rect x="473" y="423" width="3" height="9" fill="#000"/>
<rect x="574" y="408" width="3" height="9" fill="#0ff"/>
<rect x="574" y="423" width="3" height="9" fill="#f0f"/>
</g>
<text x="89.9" y="402.8" font-size="12" textLength="61.8" lengthAdjust="spacing">climatology</text>
<text x="89.9" y="417.2" font-size="12" textLength="95.7" lengthAdjust="spacing">satellite-adj. clim.</text>
<text x="89.9" y="431.6" font-size="12" textLength="87.8" lengthAdjust="spacing">Argo(..raw -QC)</text>
<text x="343.3" y="402.8" font-size="12" textLength="61.8" lengthAdjust="spacing">climatology</text>
<text x="343.3" y="417.2" font-size="12" textLength="95.7" lengthAdjust="spacing">satellite-adj. clim.</text>
<text x="343.3" y="431.6" font-size="12" textLength="87.8" lengthAdjust="spacing">Argo(..raw -QC)</text>
<text x="480.8" y="403.1" font-size="12" textLength="63.8" lengthAdjust="spacing">temperature</text>
<text x="480.8" y="417.1" font-size="12" textLength="41.3" lengthAdjust="spacing">satellite</text>
<text x="480.8" y="431.1" font-size="12">Argo</text>
<text x="582.4" y="403.1" font-size="12" textLength="37.6" lengthAdjust="spacing">salinity</text>
<text x="582.4" y="417.1" font-size="12" textLength="41.3" lengthAdjust="spacing">satellite</text>
<text x="582.4" y="431.1" font-size="12">Argo</text>
<text x="326.5" y="517.6" font-size="12" textLength="116.3" lengthAdjust="spacing">US ARGO PROJECT</text>
<text x="326.9" y="531.5" font-size="12" textLength="112.8" lengthAdjust="spacing">PI: STEPHEN RISER</text>
<text x="707.5" y="26.4" font-size="12" textLength="137.8" lengthAdjust="spacing">sat. SST: 10.7 Argo: 10.4</text>
<text x="702.8" y="302.3" font-size="12" textLength="92.5" lengthAdjust="spacing">Altim. SLA: -0.06</text>
<text x="686.1" y="316.1" font-size="12" textLength="182.5" lengthAdjust="spacing">Argo h1000: -0.039 h2000: -0.07</text>
<text x="654.1" y="58.5" font-size="12" textLength="18.6" lengthAdjust="spacing">-38</text>
<text x="654.1" y="97.36" font-size="12" textLength="18.6" lengthAdjust="spacing">-40</text>
<text x="654.1" y="136.21999999999997" font-size="12" textLength="18.6" lengthAdjust="spacing">-42</text>
<text x="654.1" y="175.07999999999998" font-size="12" textLength="18.6" lengthAdjust="spacing">-44</text>
<text x="654.1" y="213.94" font-size="12" textLength="18.6" lengthAdjust="spacing">-46</text>
<text x="654.1" y="252.8" font-size="12" textLength="18.6" lengthAdjust="spacing">-48</text>
<text x="654.1" y="349.4" font-size="12" textLength="18.6" lengthAdjust="spacing">-38</text>
<text x="654.1" y="388.06" font-size="12" textLength="18.6" lengthAdjust="spacing">-40</text>
<text x="654.1" y="426.71999999999997" font-size="12" textLength="18.6" lengthAdjust="spacing">-42</text>
<text x="654.1" y="465.37999999999994" font-size="12" textLength="18.6" lengthAdjust="spacing">-44</text>
<text x="654.1" y="504.03999999999996" font-size="12" textLength="18.6" lengthAdjust="spacing">-46</text>
<text x="654.1" y="542.7" font-size="12" textLength="18.6" lengthAdjust="spacing">-48</text>
<text x="728.1" y="285.3" font-size="12" text-anchor="middle">100</text>
<text x="798.9" y="285.3" font-size="12" text-anchor="middle">105</text>
<text x="869.7" y="285.3" font-size="12" text-anchor="middle">110</text>
<text x="728.1" y="575.3" font-size="12" text-anchor="middle">100</text>
<text x="798.9" y="575.3" font-size="12" text-anchor="middle">105</text>
<text x="869.7" y="575.3" font-size="12" text-anchor="middle">110</text>
<text x="891" y="547.1" font-size="12" textLength="172.6" lengthAdjust="spacing" transform="rotate(-90 891 547.1)">©IMOS 03-Aug-2017 09:49:18</text>
</g>
</svg></body></html>
